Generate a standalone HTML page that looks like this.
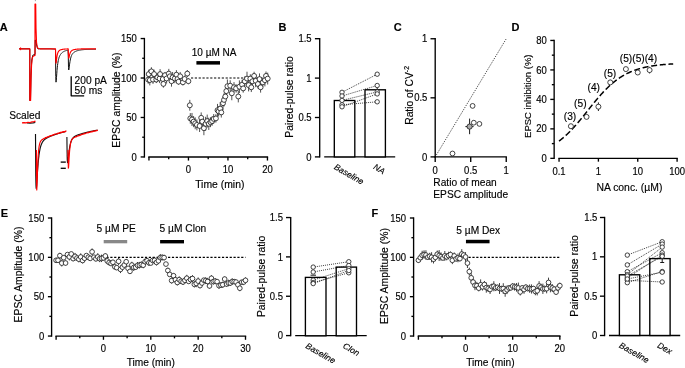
<!DOCTYPE html>
<html><head><meta charset="utf-8"><style>
html,body{margin:0;padding:0;background:#fff;overflow:hidden;}
svg{display:block;will-change:transform;font-family:"Liberation Sans", sans-serif;}
text{stroke:#000;stroke-width:0.15px;}
</style></head><body>
<svg width="685" height="368" viewBox="0 0 685 368">
<defs><filter id="bl" x="0" y="0" width="1" height="1"><feGaussianBlur stdDeviation="0.28"/></filter></defs>
<rect width="685" height="368" fill="#fff"/>
<g filter="url(#bl)">
<text x="-0.3" y="30.6" font-size="11" font-weight="bold">A</text>
<text x="278.6" y="30.8" font-size="11" font-weight="bold">B</text>
<text x="393.8" y="30.8" font-size="11" font-weight="bold">C</text>
<text x="511.6" y="30.8" font-size="11" font-weight="bold">D</text>
<text x="0.8" y="216.8" font-size="11" font-weight="bold">E</text>
<text x="371.6" y="216.8" font-size="11" font-weight="bold">F</text>
<polyline points="19,48.8 29.8,48.8 29.8,100.5 30.5,100.5 31,75 31.8,60 32.8,55.2 35,54.4 35.2,40 35.6,40 36,42 36.6,45 37.6,48.5 39,48.9 39.25,48.8 39.5,48.8 39.75,48.8 40,48.8 40.25,48.8 40.5,48.8 40.75,48.8 41,48.8 41.25,48.8 41.5,48.8 41.75,48.8 42,48.8 42.25,48.8 42.5,48.8 42.75,48.8 43,48.8 43.25,48.8 43.5,48.8 43.75,48.8 44,48.8 44.25,48.8 44.5,48.8 44.75,48.8 45,48.8 45.25,48.8 45.5,48.8 45.75,48.8 46,48.8 46.25,48.8 46.5,48.8 46.75,48.8 47,48.8 47.25,48.8 47.5,48.8 47.75,48.8 48,48.8 48.25,48.8 48.5,48.8 48.75,48.8 49,48.8 49.25,48.8 49.5,48.8 49.75,48.8 50,48.8 50.25,48.82 50.5,48.84 50.75,48.86 51,48.88 51.25,48.9 51.5,48.92 51.75,48.94 52,48.96 52.25,48.98 52.5,49 52.75,49.02 53,49.04 53.25,49.06 53.5,49.08 53.75,49.1 54,49.12 54.25,49.14 54.5,49.16 54.75,49.18 55,49.2 55.25,49.2 55.5,49.2 55.75,76.58 56,82.16 56.25,80.7 56.5,77.33 56.75,73.79 57,70.6 57.25,67.86 57.5,65.56 57.75,63.63 58,62.01 58.25,60.65 58.5,59.5 58.75,58.52 59,57.68 59.25,56.95 59.5,56.32 59.75,55.76 60,55.27 60.25,54.83 60.5,54.44 60.75,54.09 61,53.77 61.25,53.48 61.5,53.21 61.75,52.97 62,52.74 62.25,52.53 62.5,52.34 62.75,52.16 63,51.99 63.25,51.83 63.5,51.68 63.75,51.55 64,51.41 64.25,51.29 64.5,51.18 64.75,51.07 65,50.97 65.25,50.87 65.5,50.78 65.75,50.69 66,50.61 66.25,50.53 66.5,50.46 66.75,50.39 67,50.33 67.25,50.27 67.5,50.21 67.75,50.15 68,50.1 68.25,55.12 68.5,67.67 68.75,69.97 69,68.9 69.25,66.92 69.5,64.88 69.75,63.02 70,61.4 70.25,60.03 70.5,58.86 70.75,57.86 71,57.01 71.25,56.28 71.5,55.66 71.75,55.11 72,54.64 72.25,54.22 72.5,53.85 72.75,53.52 73,53.23 73.25,52.97 73.5,52.73 73.75,52.51 74,52.31 74.25,52.13 74.5,51.97 74.75,51.81 75,51.67 75.25,51.53 75.5,51.41 75.75,51.29 76,51.18 76.25,51.08 76.5,50.98 76.75,50.89 77,50.81 77.25,50.72 77.5,50.65 77.75,50.57 78,50.51 78.25,50.44 78.5,50.38 78.75,50.32 79,50.26 79.25,50.21 79.5,50.16 79.75,50.11 80,50.07 80.25,50.03 80.5,49.99 80.75,49.95 81,49.91 81.25,49.87 81.5,49.84 81.75,49.81 82,49.78 82.25,49.75 82.5,49.72 82.75,49.7 83,49.67 83.25,49.65 83.5,49.63 83.75,49.61 84,49.59 84.25,49.57 84.5,49.55 84.75,49.53 85,49.52 85.25,49.5 85.5,49.49 85.75,49.47 86,49.46 86.25,49.45 86.5,49.43 86.75,49.42 87,49.41 87.25,49.4 87.5,49.39 87.75,49.38 88,49.37 88.25,49.36 88.5,49.36 88.75,49.35 89,49.34 89.25,49.33 89.5,49.33 89.75,49.32 90,49.32 90.25,49.31 90.5,49.3 90.75,49.3 91,49.29 91.25,49.29 91.5,49.29 91.75,49.28 92,49.28 92.25,49.27 92.5,49.27 92.75,49.27 93,49.26 93.25,49.26 93.5,49.26 93.75,49.25 94,49.25 94.25,49.25 94.5,49.25 94.75,49.24 95,49.24 95.25,49.24 95.5,49.24 95.75,49.24 96,49.23" fill="none" stroke="#111" stroke-width="1" stroke-linejoin="round"/>
<polyline points="19,48.8 29.8,48.8 29.8,100.5 30.6,100.5 31,80 31.6,64 32.4,57.4 33.5,56 35,55.4 35,4 35.7,4 36,28 36.5,42 37.2,47.2 38.4,48.6 40,48.8 40.25,48.8 40.5,48.8 40.75,48.8 41,48.8 41.25,48.8 41.5,48.8 41.75,48.8 42,48.8 42.25,48.8 42.5,48.8 42.75,48.8 43,48.8 43.25,48.8 43.5,48.8 43.75,48.8 44,48.8 44.25,48.8 44.5,48.8 44.75,48.8 45,48.8 45.25,48.8 45.5,48.8 45.75,48.8 46,48.8 46.25,48.8 46.5,48.8 46.75,48.8 47,48.8 47.25,48.8 47.5,48.8 47.75,48.8 48,48.8 48.25,48.8 48.5,48.8 48.75,48.8 49,48.8 49.25,48.8 49.5,48.8 49.75,48.8 50,48.8 50.25,48.8 50.5,48.8 50.75,48.8 51,48.8 51.25,48.8 51.5,48.8 51.75,48.8 52,48.8 52.25,48.8 52.5,48.8 52.75,48.8 53,48.8 53.25,48.8 53.5,48.8 53.75,48.8 54,48.8 54.25,48.8 54.5,48.8 54.75,48.8 55,48.8 55.25,48.8 55.5,48.8 55.75,59.15 56,63.2 56.25,62.02 56.5,59.88 56.75,57.87 57,56.21 57.25,54.89 57.5,53.85 57.75,53.03 58,52.38 58.25,51.86 58.5,51.44 58.75,51.1 59,50.83 59.25,50.6 59.5,50.4 59.75,50.24 60,50.1 60.25,49.98 60.5,49.88 60.75,49.79 61,49.71 61.25,49.64 61.5,49.57 61.75,49.51 62,49.46 62.25,49.41 62.5,49.37 62.75,49.32 63,49.29 63.25,49.25 63.5,49.22 63.75,49.19 64,49.16 64.25,49.14 64.5,49.11 64.75,49.09 65,49.07 65.25,49.05 65.5,49.04 65.75,49.02 66,49 66.25,48.99 66.5,48.98 66.75,48.96 67,48.95 67.25,48.94 67.5,48.93 67.75,48.92 68,48.92 68.25,48.91 68.5,56.51 68.75,58.29 69,57.57 69.25,56.35 69.5,55.18 69.75,54.2 70,53.39 70.25,52.73 70.5,52.19 70.75,51.75 71,51.39 71.25,51.09 71.5,50.84 71.75,50.63 72,50.46 72.25,50.3 72.5,50.17 72.75,50.06 73,49.96 73.25,49.87 73.5,49.79 73.75,49.72 74,49.65 74.25,49.59 74.5,49.54 74.75,49.49 75,49.44 75.25,49.4 75.5,49.36 75.75,49.33 76,49.29 76.25,49.26 76.5,49.23 76.75,49.21 77,49.18 77.25,49.16 77.5,49.14 77.75,49.12 78,49.1 78.25,49.08 78.5,49.06 78.75,49.05 79,49.03 79.25,49.02 79.5,49 79.75,48.99 80,48.98 80.25,48.97 80.5,48.96 80.75,48.95 81,48.94 81.25,48.93 81.5,48.92 81.75,48.92 82,48.91 82.25,48.9 82.5,48.9 82.75,48.89 83,48.88 83.25,48.88 83.5,48.87 83.75,48.87 84,48.87 84.25,48.86 84.5,48.86 84.75,48.85 85,48.85 85.25,48.85 85.5,48.85 85.75,48.84 86,48.84 86.25,48.84 86.5,48.84 86.75,48.83 87,48.83 87.25,48.83 87.5,48.83 87.75,48.83 88,48.82 88.25,48.82 88.5,48.82 88.75,48.82 89,48.82 89.25,48.82 89.5,48.82 89.75,48.82 90,48.81 90.25,48.81 90.5,48.81 90.75,48.81 91,48.81 91.25,48.81 91.5,48.81 91.75,48.81 92,48.81 92.25,48.81 92.5,48.81 92.75,48.81 93,48.81 93.25,48.81 93.5,48.81 93.75,48.81 94,48.81 94.25,48.81 94.5,48.8 94.75,48.8 95,48.8 95.25,48.8 95.5,48.8 95.75,48.8 96,48.8" fill="none" stroke="#f00" stroke-width="1.15" stroke-linejoin="round"/>
<line x1="20.6" y1="47.4" x2="20.6" y2="50.2" stroke="#f00" stroke-width="1"/>
<line x1="35.4" y1="0" x2="35.4" y2="1.2" stroke="#999" stroke-width="0.9"/>
<polyline points="71.2,76.8 71.2,95.8 83.5,95.8" fill="none" stroke="#000" stroke-width="1.3" stroke-linejoin="round" stroke-linecap="square"/>
<text x="74.6" y="84.2" font-size="10.2">200 pA</text>
<text x="74.6" y="94.2" font-size="10.2">50 ms</text>
<text x="9.2" y="118.8" font-size="10.2">Scaled</text>
<polyline points="27,123 30,123.1 33,122.8 35.3,122.5" fill="none" stroke="#111" stroke-width="1.2" stroke-linejoin="round"/>
<polyline points="22,122.9 24,122.6 26,122.9 28,122.4 30,122.5 32,121.9 34,121.7 35.5,121.2" fill="none" stroke="#f00" stroke-width="1.25" stroke-linejoin="round"/>
<polyline points="35.5,134 35.75,174.76 35.95,184.69 36.15,188.2 36.35,188.17 36.55,186.26 36.75,183.44 36.95,180.24 37.15,176.96 37.35,173.78 37.55,170.77 37.75,167.97 37.95,165.39 38.15,163.03 38.35,160.87 38.55,158.91 38.75,157.13 38.95,155.51 39.15,154.04 39.35,152.71 39.55,151.49 39.75,150.39 39.95,149.38 40.15,148.47 40.35,147.63 40.55,146.87 40.75,146.17 40.95,145.53 41.15,144.95 41.35,144.41 41.55,143.92 41.75,143.46 41.95,143.04 42.15,142.66 42.35,142.3 42.55,141.96 42.75,141.65 42.95,141.37 43.15,141.1 43.35,140.84 43.55,140.61 43.75,140.38 43.95,140.17 44.15,139.98 44.35,139.79 44.55,139.61 44.75,139.44 44.95,139.28 45.15,139.12 45.35,138.97 45.55,138.83 45.75,138.69 45.95,138.56 46.15,138.43 46.35,138.31 46.55,138.19 46.75,138.07 46.95,137.96 47.15,137.85 47.35,137.74 47.55,137.63 47.75,137.53 47.95,137.43 48.15,137.33 48.35,137.23 48.55,137.13 48.75,137.04 48.95,136.95 49.15,136.86 49.35,136.77 49.55,136.68 49.75,136.59 49.95,136.5 50.15,136.42 50.35,136.33 50.55,136.25 50.75,136.16 50.95,136.08 51.15,136 51.35,135.92 51.55,135.84 51.75,135.76 51.95,135.68 52.15,135.61 52.35,135.53 52.55,135.45 52.75,135.38 52.95,135.3 53.15,135.23 53.35,135.16 53.55,135.08 53.75,135.01 53.95,134.94 54.15,134.87 54.35,134.8 54.55,134.73 54.75,134.66 54.95,134.59 55.15,134.52 55.35,134.45 55.55,134.38 55.75,134.32 55.95,134.25 56.15,134.19 56.35,134.12 56.55,134.05 56.75,133.99 56.95,133.93 57.15,133.86 57.35,133.8 57.55,133.74 57.75,133.67 57.95,133.61 58.15,133.55 58.35,133.49 58.55,133.43 58.75,133.37 58.95,133.31 59.15,133.25 59.35,133.19 59.55,133.13 59.75,133.08 59.95,133.02 60.15,132.96 60.35,132.9 60.55,132.85 60.75,132.79 60.95,132.74 61.15,132.68 61.35,132.63 61.55,132.57 61.75,132.52 61.95,132.47 62.15,132.41 62.35,132.36 62.55,132.31 62.75,132.26 62.95,132.2 63.15,132.15 63.35,132.1 63.55,132.05 63.75,132 63.95,131.95 64.15,131.9 64.35,131.85 64.55,131.8 64.75,131.76 64.95,131.71 65.15,131.66 65.35,131.61 65.55,131.56 65.75,131.52 65.95,131.47" fill="none" stroke="#111" stroke-width="1.15" stroke-linejoin="round"/>
<polyline points="66.9,137 67.1,152.49 67.3,159.68 67.5,162.42 67.7,162.71 67.9,161.73 68.1,160.12 68.3,158.26 68.5,156.34 68.7,154.48 68.9,152.73 69.1,151.12 69.3,149.64 69.5,148.3 69.7,147.09 69.9,146 70.1,145.02 70.3,144.13 70.5,143.34 70.7,142.62 70.9,141.97 71.1,141.39 71.3,140.86 71.5,140.38 71.7,139.94 71.9,139.55 72.1,139.19 72.3,138.86 72.5,138.56 72.7,138.29 72.9,138.03 73.1,137.8 73.3,137.59 73.5,137.39 73.7,137.2 73.9,137.03 74.1,136.87 74.3,136.72 74.5,136.58 74.7,136.44 74.9,136.32 75.1,136.2 75.3,136.08 75.5,135.97 75.7,135.87 75.9,135.77 76.1,135.67 76.3,135.58 76.5,135.49 76.7,135.4 76.9,135.32 77.1,135.23 77.3,135.15 77.5,135.08 77.7,135 77.9,134.92 78.1,134.85 78.3,134.78 78.5,134.71 78.7,134.64 78.9,134.57 79.1,134.5 79.3,134.43 79.5,134.37 79.7,134.3 79.9,134.24 80.1,134.17 80.3,134.11 80.5,134.05 80.7,133.99 80.9,133.93 81.1,133.87 81.3,133.8 81.5,133.75 81.7,133.69 81.9,133.63 82.1,133.57 82.3,133.51 82.5,133.46 82.7,133.4 82.9,133.34 83.1,133.29 83.3,133.23 83.5,133.18 83.7,133.12 83.9,133.07 84.1,133.01 84.3,132.96 84.5,132.91 84.7,132.85 84.9,132.8 85.1,132.75 85.3,132.7 85.5,132.65 85.7,132.6 85.9,132.55 86.1,132.5 86.3,132.45 86.5,132.4 86.7,132.35 86.9,132.3 87.1,132.25 87.3,132.2 87.5,132.15 87.7,132.11 87.9,132.06 88.1,132.01 88.3,131.96 88.5,131.92 88.7,131.87 88.9,131.83 89.1,131.78 89.3,131.74 89.5,131.69 89.7,131.65 89.9,131.6 90.1,131.56 90.3,131.52 90.5,131.47 90.7,131.43 90.9,131.39 91.1,131.34 91.3,131.3 91.5,131.26 91.7,131.22 91.9,131.18 92.1,131.14 92.3,131.1 92.5,131.05 92.7,131.01 92.9,130.97 93.1,130.93 93.3,130.9 93.5,130.86 93.7,130.82 93.9,130.78 94.1,130.74 94.3,130.7 94.5,130.66 94.7,130.63 94.9,130.59 95.1,130.55 95.3,130.52 95.5,130.48 95.7,130.44 95.9,130.41 96.1,130.37 96.3,130.33 96.5,130.3 96.7,130.26 96.9,130.23 97.1,130.19 97.3,130.16 97.5,130.13" fill="none" stroke="#111" stroke-width="1.15" stroke-linejoin="round"/>
<polyline points="36.4,150 36.5,176.21 36.75,189.97 37,185.93 37.25,178.03 37.5,170.36 37.75,163.9 38,158.73 38.25,154.67 38.5,151.49 38.75,149.01 39,147.07 39.25,145.55 39.5,144.35 39.75,143.39 40,142.63 40.25,142.01 40.5,141.51 40.75,141.09 41,140.74 41.25,140.44 41.5,140.19 41.75,139.96 42,139.76 42.25,139.57 42.5,139.4 42.75,139.25 43,139.1 43.25,138.96 43.5,138.82 43.75,138.69 44,138.41 44.25,138.47 44.5,138.24 44.75,138.26 45,138.16 45.25,137.71 45.5,137.56 45.75,137.95 46,137.49 46.25,137.36 46.5,137.71 46.75,137.29 47,137.4 47.25,137.08 47.5,137.07 47.75,136.68 48,136.86 48.25,136.9 48.5,136.59 48.75,136.62 49,136.48 49.25,136.02 49.5,136.34 49.75,136.14 50,135.87 50.25,135.61 50.5,136.02 50.75,135.69 51,135.74 51.25,135.75 51.5,135.56 51.75,135.59 52,135.19 52.25,135.34 52.5,135.04 52.75,135.25 53,135.12 53.25,134.57 53.5,134.51 53.75,134.47 54,134.84 54.25,134.43 54.5,134.47 54.75,134.19 55,134.23 55.25,134.08 55.5,133.98 55.75,134.04 56,133.96 56.25,134.07 56.5,133.86 56.75,133.93 57,133.81 57.25,133.82 57.5,133.55 57.75,133.17 58,133.52 58.25,133.51 58.5,133.4 58.75,133.12 59,133.14 59.25,132.77 59.5,133.07 59.75,132.85 60,132.6 60.25,132.4 60.5,132.81 60.75,132.82 61,132.22 61.25,132.58 61.5,132.28 61.75,132.06 62,132.08 62.25,132.3 62.5,132.3 62.75,131.74 63,132.02 63.25,131.61 63.5,131.96 63.75,131.66 64,131.93 64.25,131.93 64.5,131.59 64.75,131.83 65,131.36 65.25,131.16 65.5,131.41 65.75,131.02 66,131.06 66.25,131.13 66.5,131.2" fill="none" stroke="#f00" stroke-width="1.15" stroke-linejoin="round"/>
<polyline points="68,150 68.1,157.53 68.35,168.18 68.6,167.05 68.85,162.82 69.1,158.3 69.35,154.33 69.6,151.05 69.85,148.41 70.1,146.31 70.35,144.64 70.6,143.31 70.85,142.24 71.1,141.38 71.35,140.69 71.6,140.13 71.85,139.66 72.1,139.28 72.35,138.95 72.6,138.67 72.85,138.43 73.1,138.22 73.35,138.03 73.6,137.86 73.85,137.71 74.1,137.56 74.35,137.43 74.6,137.3 74.85,137.17 75.1,137.06 75.35,136.94 75.6,136.62 75.85,136.45 76.1,136.84 76.35,136.4 76.6,136.68 76.85,136.55 77.1,136.13 77.35,136.09 77.6,136.02 77.85,136 78.1,135.88 78.35,135.76 78.6,135.7 78.85,135.8 79.1,135.45 79.35,135.32 79.6,135.4 79.85,135.02 80.1,134.97 80.35,135.29 80.6,134.93 80.85,134.86 81.1,134.45 81.35,134.61 81.6,134.62 81.85,134.2 82.1,134.47 82.35,134.4 82.6,133.98 82.85,134.24 83.1,134.06 83.35,134.11 83.6,133.83 83.85,133.97 84.1,133.91 84.35,133.4 84.6,133.35 84.85,133.64 85.1,133.74 85.35,133.24 85.6,133.29 85.85,133.3 86.1,133.06 86.35,133.02 86.6,132.91 86.85,132.88 87.1,132.94 87.35,132.7 87.6,132.67 87.85,132.84 88.1,132.33 88.35,132.58 88.6,132.62 88.85,132.3 89.1,132.18 89.35,132.46 89.6,132.06 89.85,131.96 90.1,132.05 90.35,132.14 90.6,131.72 90.85,131.79 91.1,131.74 91.35,131.98 91.6,131.68 91.85,131.87 92.1,131.4 92.35,131.44 92.6,131.57 92.85,131.65 93.1,131.34 93.35,131.14 93.6,131.02 93.85,131.21 94.1,130.95 94.35,131.27 94.6,131.23 94.85,130.79 95.1,130.79 95.35,131.05 95.6,130.9 95.85,130.95 96.1,130.62 96.35,130.44 96.6,130.48 96.85,130.73 97.1,130.37 97.35,130.37 97.6,130.36 97.85,130.31" fill="none" stroke="#f00" stroke-width="1.15" stroke-linejoin="round"/>
<line x1="60.7" y1="162.1" x2="65.8" y2="162.1" stroke="#000" stroke-width="1.3"/>
<line x1="60.7" y1="168.3" x2="65.8" y2="168.3" stroke="#000" stroke-width="1.3"/>
<line x1="144.4" y1="37.88" x2="144.4" y2="157.62" stroke="#000" stroke-width="1.35"/>
<line x1="140.65" y1="156.95" x2="144.4" y2="156.95" stroke="#000" stroke-width="1.35"/>
<line x1="140.65" y1="117.48" x2="144.4" y2="117.48" stroke="#000" stroke-width="1.35"/>
<line x1="140.65" y1="78.02" x2="144.4" y2="78.02" stroke="#000" stroke-width="1.35"/>
<line x1="140.65" y1="38.55" x2="144.4" y2="38.55" stroke="#000" stroke-width="1.35"/>
<line x1="142.2" y1="137.22" x2="144.4" y2="137.22" stroke="#000" stroke-width="1.35"/>
<line x1="142.2" y1="97.75" x2="144.4" y2="97.75" stroke="#000" stroke-width="1.35"/>
<line x1="142.2" y1="58.29" x2="144.4" y2="58.29" stroke="#000" stroke-width="1.35"/>
<text x="0" y="0" font-size="9.5" text-anchor="end" transform="translate(136.8,160.55) scale(1,1.15)">0</text>
<text x="0" y="0" font-size="9.5" text-anchor="end" transform="translate(136.8,121.08) scale(1,1.15)">50</text>
<text x="0" y="0" font-size="9.5" text-anchor="end" transform="translate(136.8,81.62) scale(1,1.15)">100</text>
<text x="0" y="0" font-size="9.5" text-anchor="end" transform="translate(136.8,42.15) scale(1,1.15)">150</text>
<line x1="148.27" y1="156.95" x2="268.12" y2="156.95" stroke="#000" stroke-width="1.35"/>
<line x1="148.95" y1="156.95" x2="148.95" y2="160.55" stroke="#000" stroke-width="1.35"/>
<line x1="188.45" y1="156.95" x2="188.45" y2="160.55" stroke="#000" stroke-width="1.35"/>
<line x1="227.95" y1="156.95" x2="227.95" y2="160.55" stroke="#000" stroke-width="1.35"/>
<line x1="267.45" y1="156.95" x2="267.45" y2="160.55" stroke="#000" stroke-width="1.35"/>
<line x1="168.7" y1="156.95" x2="168.7" y2="159.15" stroke="#000" stroke-width="1.35"/>
<line x1="208.2" y1="156.95" x2="208.2" y2="159.15" stroke="#000" stroke-width="1.35"/>
<line x1="247.7" y1="156.95" x2="247.7" y2="159.15" stroke="#000" stroke-width="1.35"/>
<text x="0" y="0" font-size="9.5" text-anchor="middle" transform="translate(188.45,172.9) scale(1,1.15)">0</text>
<text x="0" y="0" font-size="9.5" text-anchor="middle" transform="translate(227.95,172.9) scale(1,1.15)">10</text>
<text x="0" y="0" font-size="9.5" text-anchor="middle" transform="translate(267.45,172.9) scale(1,1.15)">20</text>
<text x="219.8" y="187.7" font-size="10.4" text-anchor="middle">Time (min)</text>
<text x="0" y="0" font-size="10.4" text-anchor="middle" transform="translate(119.74,100.1) rotate(-90)">EPSC amplitude (%)</text>
<text x="191.8" y="56.3" font-size="10">10 &#181;M NA</text>
<rect x="196.4" y="61.1" width="23.6" height="3.5" fill="#000" stroke="none" stroke-width="0"/>
<line x1="190.95" y1="78.02" x2="267.45" y2="78.02" stroke="#000" stroke-width="1.1" stroke-dasharray="2.2 1.65"/>
<line x1="148.2" y1="75.47" x2="148.2" y2="83.73" stroke="#333" stroke-width="0.85"/>
<line x1="148.7" y1="69.7" x2="148.7" y2="78.5" stroke="#333" stroke-width="0.85"/>
<line x1="149.8" y1="74.79" x2="149.8" y2="85.41" stroke="#333" stroke-width="0.85"/>
<line x1="151.4" y1="67.24" x2="151.4" y2="75.56" stroke="#333" stroke-width="0.85"/>
<line x1="153" y1="75.33" x2="153" y2="83.87" stroke="#333" stroke-width="0.85"/>
<line x1="154.1" y1="69.63" x2="154.1" y2="78.57" stroke="#333" stroke-width="0.85"/>
<line x1="156.3" y1="76.14" x2="156.3" y2="83.06" stroke="#333" stroke-width="0.85"/>
<line x1="157.4" y1="73.12" x2="157.4" y2="81.68" stroke="#333" stroke-width="0.85"/>
<line x1="159.6" y1="73.93" x2="159.6" y2="83.07" stroke="#333" stroke-width="0.85"/>
<line x1="160.1" y1="69.12" x2="160.1" y2="79.08" stroke="#333" stroke-width="0.85"/>
<line x1="162.8" y1="75.76" x2="162.8" y2="82.24" stroke="#333" stroke-width="0.85"/>
<line x1="163.4" y1="80.14" x2="163.4" y2="87.66" stroke="#333" stroke-width="0.85"/>
<line x1="165" y1="71.97" x2="165" y2="78.43" stroke="#333" stroke-width="0.85"/>
<line x1="166.6" y1="73.48" x2="166.6" y2="83.52" stroke="#333" stroke-width="0.85"/>
<line x1="168.8" y1="68.87" x2="168.8" y2="78.33" stroke="#333" stroke-width="0.85"/>
<line x1="169.9" y1="73.2" x2="169.9" y2="79.4" stroke="#333" stroke-width="0.85"/>
<line x1="171.5" y1="75.74" x2="171.5" y2="86.66" stroke="#333" stroke-width="0.85"/>
<line x1="172.6" y1="71.99" x2="172.6" y2="82.81" stroke="#333" stroke-width="0.85"/>
<line x1="174.8" y1="73.87" x2="174.8" y2="83.13" stroke="#333" stroke-width="0.85"/>
<line x1="176.4" y1="70.16" x2="176.4" y2="79.24" stroke="#333" stroke-width="0.85"/>
<line x1="177.5" y1="75.61" x2="177.5" y2="82.39" stroke="#333" stroke-width="0.85"/>
<line x1="178.6" y1="78.66" x2="178.6" y2="84.74" stroke="#333" stroke-width="0.85"/>
<line x1="180.2" y1="71.98" x2="180.2" y2="80.62" stroke="#333" stroke-width="0.85"/>
<line x1="182.9" y1="79.15" x2="182.9" y2="85.45" stroke="#333" stroke-width="0.85"/>
<line x1="184.6" y1="75.52" x2="184.6" y2="82.48" stroke="#333" stroke-width="0.85"/>
<line x1="187.3" y1="70" x2="187.3" y2="77.2" stroke="#333" stroke-width="0.85"/>
<line x1="188.4" y1="78.12" x2="188.4" y2="84.28" stroke="#333" stroke-width="0.85"/>
<line x1="189.8" y1="99.91" x2="189.8" y2="110.69" stroke="#333" stroke-width="0.85"/>
<line x1="190.3" y1="113.08" x2="190.3" y2="123.72" stroke="#333" stroke-width="0.85"/>
<line x1="192" y1="112.97" x2="192" y2="126.03" stroke="#333" stroke-width="0.85"/>
<line x1="193.6" y1="116.04" x2="193.6" y2="127.16" stroke="#333" stroke-width="0.85"/>
<line x1="195.2" y1="117.38" x2="195.2" y2="129.22" stroke="#333" stroke-width="0.85"/>
<line x1="196.9" y1="119.4" x2="196.9" y2="130.4" stroke="#333" stroke-width="0.85"/>
<line x1="199.6" y1="120.01" x2="199.6" y2="131.99" stroke="#333" stroke-width="0.85"/>
<line x1="201.2" y1="112.43" x2="201.2" y2="123.17" stroke="#333" stroke-width="0.85"/>
<line x1="202.3" y1="116.77" x2="202.3" y2="126.43" stroke="#333" stroke-width="0.85"/>
<line x1="203.9" y1="121.21" x2="203.9" y2="135.19" stroke="#333" stroke-width="0.85"/>
<line x1="205.6" y1="116.81" x2="205.6" y2="130.79" stroke="#333" stroke-width="0.85"/>
<line x1="207.2" y1="114.58" x2="207.2" y2="127.62" stroke="#333" stroke-width="0.85"/>
<line x1="208.8" y1="117.68" x2="208.8" y2="129.92" stroke="#333" stroke-width="0.85"/>
<line x1="210.5" y1="117.25" x2="210.5" y2="127.15" stroke="#333" stroke-width="0.85"/>
<line x1="212.1" y1="116.41" x2="212.1" y2="125.79" stroke="#333" stroke-width="0.85"/>
<line x1="213.7" y1="114.03" x2="213.7" y2="123.77" stroke="#333" stroke-width="0.85"/>
<line x1="215.9" y1="114.19" x2="215.9" y2="122.61" stroke="#333" stroke-width="0.85"/>
<line x1="217.5" y1="103.9" x2="217.5" y2="116.5" stroke="#333" stroke-width="0.85"/>
<line x1="218.6" y1="106.1" x2="218.6" y2="116.5" stroke="#333" stroke-width="0.85"/>
<line x1="220.2" y1="102.06" x2="220.2" y2="115.14" stroke="#333" stroke-width="0.85"/>
<line x1="221.3" y1="107.24" x2="221.3" y2="117.56" stroke="#333" stroke-width="0.85"/>
<line x1="223" y1="96.33" x2="223" y2="110.07" stroke="#333" stroke-width="0.85"/>
<line x1="224" y1="93.36" x2="224" y2="106.44" stroke="#333" stroke-width="0.85"/>
<line x1="225.3" y1="92.5" x2="225.3" y2="100.5" stroke="#333" stroke-width="0.85"/>
<line x1="226.3" y1="86.47" x2="226.3" y2="95.73" stroke="#333" stroke-width="0.85"/>
<line x1="227.4" y1="79.47" x2="227.4" y2="92.93" stroke="#333" stroke-width="0.85"/>
<line x1="230.2" y1="80.29" x2="230.2" y2="91.11" stroke="#333" stroke-width="0.85"/>
<line x1="231.8" y1="86.36" x2="231.8" y2="100.24" stroke="#333" stroke-width="0.85"/>
<line x1="234" y1="82.11" x2="234" y2="92.49" stroke="#333" stroke-width="0.85"/>
<line x1="236.1" y1="84.18" x2="236.1" y2="92.62" stroke="#333" stroke-width="0.85"/>
<line x1="238.3" y1="90.61" x2="238.3" y2="102.39" stroke="#333" stroke-width="0.85"/>
<line x1="239.4" y1="80.36" x2="239.4" y2="93.04" stroke="#333" stroke-width="0.85"/>
<line x1="242.1" y1="79.79" x2="242.1" y2="89.41" stroke="#333" stroke-width="0.85"/>
<line x1="243.2" y1="84.14" x2="243.2" y2="92.66" stroke="#333" stroke-width="0.85"/>
<line x1="244.8" y1="76.3" x2="244.8" y2="86.3" stroke="#333" stroke-width="0.85"/>
<line x1="247" y1="71.71" x2="247" y2="85.49" stroke="#333" stroke-width="0.85"/>
<line x1="248.6" y1="78.83" x2="248.6" y2="91.37" stroke="#333" stroke-width="0.85"/>
<line x1="250.3" y1="74.25" x2="250.3" y2="82.95" stroke="#333" stroke-width="0.85"/>
<line x1="251.3" y1="82.56" x2="251.3" y2="92.04" stroke="#333" stroke-width="0.85"/>
<line x1="252.4" y1="77" x2="252.4" y2="85.6" stroke="#333" stroke-width="0.85"/>
<line x1="254.1" y1="71.72" x2="254.1" y2="80.08" stroke="#333" stroke-width="0.85"/>
<line x1="255.7" y1="74.41" x2="255.7" y2="87.19" stroke="#333" stroke-width="0.85"/>
<line x1="257.9" y1="79.47" x2="257.9" y2="88.53" stroke="#333" stroke-width="0.85"/>
<line x1="259.5" y1="73.42" x2="259.5" y2="84.78" stroke="#333" stroke-width="0.85"/>
<line x1="260.6" y1="81.96" x2="260.6" y2="92.64" stroke="#333" stroke-width="0.85"/>
<line x1="262.8" y1="77.83" x2="262.8" y2="86.97" stroke="#333" stroke-width="0.85"/>
<line x1="264.9" y1="74" x2="264.9" y2="86.4" stroke="#333" stroke-width="0.85"/>
<line x1="266" y1="71.51" x2="266" y2="80.29" stroke="#333" stroke-width="0.85"/>
<line x1="267.7" y1="72.67" x2="267.7" y2="84.53" stroke="#333" stroke-width="0.85"/>
<circle cx="148.2" cy="79.6" r="2.45" fill="#fff" stroke="#222" stroke-width="0.85"/>
<circle cx="148.7" cy="74.1" r="2.45" fill="#fff" stroke="#222" stroke-width="0.85"/>
<circle cx="149.8" cy="80.1" r="2.45" fill="#fff" stroke="#222" stroke-width="0.85"/>
<circle cx="151.4" cy="71.4" r="2.45" fill="#fff" stroke="#222" stroke-width="0.85"/>
<circle cx="153" cy="79.6" r="2.45" fill="#fff" stroke="#222" stroke-width="0.85"/>
<circle cx="154.1" cy="74.1" r="2.45" fill="#fff" stroke="#222" stroke-width="0.85"/>
<circle cx="156.3" cy="79.6" r="2.45" fill="#fff" stroke="#222" stroke-width="0.85"/>
<circle cx="157.4" cy="77.4" r="2.45" fill="#fff" stroke="#222" stroke-width="0.85"/>
<circle cx="159.6" cy="78.5" r="2.45" fill="#fff" stroke="#222" stroke-width="0.85"/>
<circle cx="160.1" cy="74.1" r="2.45" fill="#fff" stroke="#222" stroke-width="0.85"/>
<circle cx="162.8" cy="79" r="2.45" fill="#fff" stroke="#222" stroke-width="0.85"/>
<circle cx="163.4" cy="83.9" r="2.45" fill="#fff" stroke="#222" stroke-width="0.85"/>
<circle cx="165" cy="75.2" r="2.45" fill="#fff" stroke="#222" stroke-width="0.85"/>
<circle cx="166.6" cy="78.5" r="2.45" fill="#fff" stroke="#222" stroke-width="0.85"/>
<circle cx="168.8" cy="73.6" r="2.45" fill="#fff" stroke="#222" stroke-width="0.85"/>
<circle cx="169.9" cy="76.3" r="2.45" fill="#fff" stroke="#222" stroke-width="0.85"/>
<circle cx="171.5" cy="81.2" r="2.45" fill="#fff" stroke="#222" stroke-width="0.85"/>
<circle cx="172.6" cy="77.4" r="2.45" fill="#fff" stroke="#222" stroke-width="0.85"/>
<circle cx="174.8" cy="78.5" r="2.45" fill="#fff" stroke="#222" stroke-width="0.85"/>
<circle cx="176.4" cy="74.7" r="2.45" fill="#fff" stroke="#222" stroke-width="0.85"/>
<circle cx="177.5" cy="79" r="2.45" fill="#fff" stroke="#222" stroke-width="0.85"/>
<circle cx="178.6" cy="81.7" r="2.45" fill="#fff" stroke="#222" stroke-width="0.85"/>
<circle cx="180.2" cy="76.3" r="2.45" fill="#fff" stroke="#222" stroke-width="0.85"/>
<circle cx="182.9" cy="82.3" r="2.45" fill="#fff" stroke="#222" stroke-width="0.85"/>
<circle cx="184.6" cy="79" r="2.45" fill="#fff" stroke="#222" stroke-width="0.85"/>
<circle cx="187.3" cy="73.6" r="2.45" fill="#fff" stroke="#222" stroke-width="0.85"/>
<circle cx="188.4" cy="81.2" r="2.45" fill="#fff" stroke="#222" stroke-width="0.85"/>
<circle cx="189.8" cy="105.3" r="2.45" fill="#fff" stroke="#222" stroke-width="0.85"/>
<circle cx="190.3" cy="118.4" r="2.45" fill="#fff" stroke="#222" stroke-width="0.85"/>
<circle cx="192" cy="119.5" r="2.45" fill="#fff" stroke="#222" stroke-width="0.85"/>
<circle cx="193.6" cy="121.6" r="2.45" fill="#fff" stroke="#222" stroke-width="0.85"/>
<circle cx="195.2" cy="123.3" r="2.45" fill="#fff" stroke="#222" stroke-width="0.85"/>
<circle cx="196.9" cy="124.9" r="2.45" fill="#fff" stroke="#222" stroke-width="0.85"/>
<circle cx="199.6" cy="126" r="2.45" fill="#fff" stroke="#222" stroke-width="0.85"/>
<circle cx="201.2" cy="117.8" r="2.45" fill="#fff" stroke="#222" stroke-width="0.85"/>
<circle cx="202.3" cy="121.6" r="2.45" fill="#fff" stroke="#222" stroke-width="0.85"/>
<circle cx="203.9" cy="128.2" r="2.45" fill="#fff" stroke="#222" stroke-width="0.85"/>
<circle cx="205.6" cy="123.8" r="2.45" fill="#fff" stroke="#222" stroke-width="0.85"/>
<circle cx="207.2" cy="121.1" r="2.45" fill="#fff" stroke="#222" stroke-width="0.85"/>
<circle cx="208.8" cy="123.8" r="2.45" fill="#fff" stroke="#222" stroke-width="0.85"/>
<circle cx="210.5" cy="122.2" r="2.45" fill="#fff" stroke="#222" stroke-width="0.85"/>
<circle cx="212.1" cy="121.1" r="2.45" fill="#fff" stroke="#222" stroke-width="0.85"/>
<circle cx="213.7" cy="118.9" r="2.45" fill="#fff" stroke="#222" stroke-width="0.85"/>
<circle cx="215.9" cy="118.4" r="2.45" fill="#fff" stroke="#222" stroke-width="0.85"/>
<circle cx="217.5" cy="110.2" r="2.45" fill="#fff" stroke="#222" stroke-width="0.85"/>
<circle cx="218.6" cy="111.3" r="2.45" fill="#fff" stroke="#222" stroke-width="0.85"/>
<circle cx="220.2" cy="108.6" r="2.45" fill="#fff" stroke="#222" stroke-width="0.85"/>
<circle cx="221.3" cy="112.4" r="2.45" fill="#fff" stroke="#222" stroke-width="0.85"/>
<circle cx="223" cy="103.2" r="2.45" fill="#fff" stroke="#222" stroke-width="0.85"/>
<circle cx="224" cy="99.9" r="2.45" fill="#fff" stroke="#222" stroke-width="0.85"/>
<circle cx="225.3" cy="96.5" r="2.45" fill="#fff" stroke="#222" stroke-width="0.85"/>
<circle cx="226.3" cy="91.1" r="2.45" fill="#fff" stroke="#222" stroke-width="0.85"/>
<circle cx="227.4" cy="86.2" r="2.45" fill="#fff" stroke="#222" stroke-width="0.85"/>
<circle cx="230.2" cy="85.7" r="2.45" fill="#fff" stroke="#222" stroke-width="0.85"/>
<circle cx="231.8" cy="93.3" r="2.45" fill="#fff" stroke="#222" stroke-width="0.85"/>
<circle cx="234" cy="87.3" r="2.45" fill="#fff" stroke="#222" stroke-width="0.85"/>
<circle cx="236.1" cy="88.4" r="2.45" fill="#fff" stroke="#222" stroke-width="0.85"/>
<circle cx="238.3" cy="96.5" r="2.45" fill="#fff" stroke="#222" stroke-width="0.85"/>
<circle cx="239.4" cy="86.7" r="2.45" fill="#fff" stroke="#222" stroke-width="0.85"/>
<circle cx="242.1" cy="84.6" r="2.45" fill="#fff" stroke="#222" stroke-width="0.85"/>
<circle cx="243.2" cy="88.4" r="2.45" fill="#fff" stroke="#222" stroke-width="0.85"/>
<circle cx="244.8" cy="81.3" r="2.45" fill="#fff" stroke="#222" stroke-width="0.85"/>
<circle cx="247" cy="78.6" r="2.45" fill="#fff" stroke="#222" stroke-width="0.85"/>
<circle cx="248.6" cy="85.1" r="2.45" fill="#fff" stroke="#222" stroke-width="0.85"/>
<circle cx="250.3" cy="78.6" r="2.45" fill="#fff" stroke="#222" stroke-width="0.85"/>
<circle cx="251.3" cy="87.3" r="2.45" fill="#fff" stroke="#222" stroke-width="0.85"/>
<circle cx="252.4" cy="81.3" r="2.45" fill="#fff" stroke="#222" stroke-width="0.85"/>
<circle cx="254.1" cy="75.9" r="2.45" fill="#fff" stroke="#222" stroke-width="0.85"/>
<circle cx="255.7" cy="80.8" r="2.45" fill="#fff" stroke="#222" stroke-width="0.85"/>
<circle cx="257.9" cy="84" r="2.45" fill="#fff" stroke="#222" stroke-width="0.85"/>
<circle cx="259.5" cy="79.1" r="2.45" fill="#fff" stroke="#222" stroke-width="0.85"/>
<circle cx="260.6" cy="87.3" r="2.45" fill="#fff" stroke="#222" stroke-width="0.85"/>
<circle cx="262.8" cy="82.4" r="2.45" fill="#fff" stroke="#222" stroke-width="0.85"/>
<circle cx="264.9" cy="80.2" r="2.45" fill="#fff" stroke="#222" stroke-width="0.85"/>
<circle cx="266" cy="75.9" r="2.45" fill="#fff" stroke="#222" stroke-width="0.85"/>
<circle cx="267.7" cy="78.6" r="2.45" fill="#fff" stroke="#222" stroke-width="0.85"/>
<line x1="319.7" y1="38.03" x2="319.7" y2="157.58" stroke="#000" stroke-width="1.35"/>
<line x1="314.9" y1="156.9" x2="319.7" y2="156.9" stroke="#000" stroke-width="1.35"/>
<line x1="314.9" y1="117.5" x2="319.7" y2="117.5" stroke="#000" stroke-width="1.35"/>
<line x1="314.9" y1="78.1" x2="319.7" y2="78.1" stroke="#000" stroke-width="1.35"/>
<line x1="314.9" y1="38.7" x2="319.7" y2="38.7" stroke="#000" stroke-width="1.35"/>
<text x="0" y="0" font-size="9.5" text-anchor="end" transform="translate(311.6,160.5) scale(1,1.15)">0</text>
<text x="0" y="0" font-size="9.5" text-anchor="end" transform="translate(311.6,121.1) scale(1,1.15)">0.5</text>
<text x="0" y="0" font-size="9.5" text-anchor="end" transform="translate(311.6,81.7) scale(1,1.15)">1</text>
<text x="0" y="0" font-size="9.5" text-anchor="end" transform="translate(311.6,42.3) scale(1,1.15)">1.5</text>
<line x1="324.2" y1="156.9" x2="395.2" y2="156.9" stroke="#000" stroke-width="1.35"/>
<text x="0" y="0" font-size="10.4" text-anchor="middle" transform="translate(293.44,97) rotate(-90)">Paired-pulse ratio</text>
<rect x="334.3" y="100.5" width="20.5" height="56.4" fill="#fff" stroke="#000" stroke-width="1.35"/>
<rect x="365" y="89.8" width="20.4" height="67.1" fill="#fff" stroke="#000" stroke-width="1.35"/>
<line x1="377.2" y1="85.2" x2="377.2" y2="89.3" stroke="#000" stroke-width="0.9"/>
<line x1="375.5" y1="85.2" x2="379" y2="85.2" stroke="#000" stroke-width="0.9"/>
<line x1="342" y1="92.3" x2="377.2" y2="74.2" stroke="#000" stroke-width="0.75" stroke-dasharray="1 1"/>
<line x1="342" y1="96" x2="377.2" y2="85.5" stroke="#000" stroke-width="0.75" stroke-dasharray="1 1"/>
<line x1="342" y1="100.4" x2="377.2" y2="91.9" stroke="#000" stroke-width="0.75" stroke-dasharray="1 1"/>
<line x1="342" y1="104.8" x2="377.2" y2="101.8" stroke="#000" stroke-width="0.75" stroke-dasharray="1 1"/>
<line x1="342" y1="106.8" x2="377.2" y2="93.9" stroke="#000" stroke-width="0.75" stroke-dasharray="1 1"/>
<circle cx="342" cy="92.3" r="2.2" fill="#fff" stroke="#222" stroke-width="0.85"/>
<circle cx="342" cy="96" r="2.2" fill="#fff" stroke="#222" stroke-width="0.85"/>
<circle cx="342" cy="100.4" r="2.2" fill="#fff" stroke="#222" stroke-width="0.85"/>
<circle cx="342" cy="104.8" r="2.2" fill="#fff" stroke="#222" stroke-width="0.85"/>
<circle cx="342" cy="106.8" r="2.2" fill="#fff" stroke="#222" stroke-width="0.85"/>
<circle cx="377.2" cy="74.2" r="2.2" fill="#fff" stroke="#222" stroke-width="0.85"/>
<circle cx="377.2" cy="85.5" r="2.2" fill="#fff" stroke="#222" stroke-width="0.85"/>
<circle cx="377.2" cy="91.9" r="2.2" fill="#fff" stroke="#222" stroke-width="0.85"/>
<circle cx="377.2" cy="101.8" r="2.2" fill="#fff" stroke="#222" stroke-width="0.85"/>
<circle cx="377.2" cy="93.9" r="2.2" fill="#fff" stroke="#222" stroke-width="0.85"/>
<text x="0" y="0" font-size="8.5" font-style="italic" transform="translate(333.4,168.6) rotate(30)">Baseline</text>
<text x="0" y="0" font-size="8.5" font-style="italic" transform="translate(372.7,168.6) rotate(30)">NA</text>
<line x1="435.2" y1="38.08" x2="435.2" y2="157.58" stroke="#000" stroke-width="1.35"/>
<line x1="430.5" y1="156.9" x2="435.2" y2="156.9" stroke="#000" stroke-width="1.35"/>
<line x1="430.5" y1="97.83" x2="435.2" y2="97.83" stroke="#000" stroke-width="1.35"/>
<line x1="430.5" y1="38.75" x2="435.2" y2="38.75" stroke="#000" stroke-width="1.35"/>
<text x="0" y="0" font-size="9.5" text-anchor="end" transform="translate(427.4,160.5) scale(1,1.15)">0</text>
<text x="0" y="0" font-size="9.5" text-anchor="end" transform="translate(427.4,101.42) scale(1,1.15)">0.5</text>
<text x="0" y="0" font-size="9.5" text-anchor="end" transform="translate(427.4,42.35) scale(1,1.15)">1</text>
<line x1="434.52" y1="156.9" x2="506.93" y2="156.9" stroke="#000" stroke-width="1.35"/>
<line x1="435.2" y1="156.9" x2="435.2" y2="161.9" stroke="#000" stroke-width="1.35"/>
<line x1="470.72" y1="156.9" x2="470.72" y2="161.9" stroke="#000" stroke-width="1.35"/>
<line x1="506.25" y1="156.9" x2="506.25" y2="161.9" stroke="#000" stroke-width="1.35"/>
<text x="0" y="0" font-size="9.5" text-anchor="middle" transform="translate(435.2,173.5) scale(1,1.15)">0</text>
<text x="0" y="0" font-size="9.5" text-anchor="middle" transform="translate(470.72,173.5) scale(1,1.15)">0.5</text>
<text x="0" y="0" font-size="9.5" text-anchor="middle" transform="translate(506.25,173.5) scale(1,1.15)">1</text>
<line x1="435.2" y1="156.9" x2="506.25" y2="38.75" stroke="#000" stroke-width="0.8" stroke-dasharray="1 1.2"/>
<text x="433.3" y="186.1" font-size="10.2">Ratio of mean</text>
<text x="433.3" y="197.6" font-size="10.2">EPSC amplitude</text>
<text font-size="10.3" transform="translate(413.2,124.8) rotate(-90)">Ratio of CV<tspan font-size="7" dy="-4">-2</tspan></text>
<line x1="465.4" y1="126.6" x2="473.6" y2="126.6" stroke="#000" stroke-width="0.9"/>
<line x1="469.6" y1="118.6" x2="469.6" y2="134.2" stroke="#000" stroke-width="0.9"/>
<circle cx="472.6" cy="105.9" r="2.4" fill="#fff" stroke="#222" stroke-width="0.85"/>
<circle cx="473.8" cy="122.7" r="2.4" fill="#fff" stroke="#222" stroke-width="0.85"/>
<circle cx="479.4" cy="123.9" r="2.4" fill="#fff" stroke="#222" stroke-width="0.85"/>
<circle cx="452.5" cy="153.5" r="2.4" fill="#fff" stroke="#222" stroke-width="0.85"/>
<circle cx="469.6" cy="126.6" r="2.6" fill="#aaa" stroke="#222" stroke-width="0.85"/>
<line x1="554.15" y1="39.77" x2="554.15" y2="159.03" stroke="#000" stroke-width="1.35"/>
<line x1="550.3" y1="158.35" x2="554.15" y2="158.35" stroke="#000" stroke-width="1.35"/>
<line x1="550.3" y1="128.87" x2="554.15" y2="128.87" stroke="#000" stroke-width="1.35"/>
<line x1="550.3" y1="99.4" x2="554.15" y2="99.4" stroke="#000" stroke-width="1.35"/>
<line x1="550.3" y1="69.92" x2="554.15" y2="69.92" stroke="#000" stroke-width="1.35"/>
<line x1="550.3" y1="40.45" x2="554.15" y2="40.45" stroke="#000" stroke-width="1.35"/>
<line x1="551.85" y1="143.61" x2="554.15" y2="143.61" stroke="#000" stroke-width="1.35"/>
<line x1="551.85" y1="114.14" x2="554.15" y2="114.14" stroke="#000" stroke-width="1.35"/>
<line x1="551.85" y1="84.66" x2="554.15" y2="84.66" stroke="#000" stroke-width="1.35"/>
<line x1="551.85" y1="55.18" x2="554.15" y2="55.18" stroke="#000" stroke-width="1.35"/>
<text x="0" y="0" font-size="9.5" text-anchor="end" transform="translate(546.8,161.95) scale(1,1.15)">0</text>
<text x="0" y="0" font-size="9.5" text-anchor="end" transform="translate(546.8,132.47) scale(1,1.15)">20</text>
<text x="0" y="0" font-size="9.5" text-anchor="end" transform="translate(546.8,103) scale(1,1.15)">40</text>
<text x="0" y="0" font-size="9.5" text-anchor="end" transform="translate(546.8,73.52) scale(1,1.15)">60</text>
<text x="0" y="0" font-size="9.5" text-anchor="end" transform="translate(546.8,44.05) scale(1,1.15)">80</text>
<line x1="558.38" y1="158.35" x2="677.77" y2="158.35" stroke="#000" stroke-width="1.35"/>
<line x1="559.05" y1="158.35" x2="559.05" y2="161.65" stroke="#000" stroke-width="1.35"/>
<line x1="598.4" y1="158.35" x2="598.4" y2="161.65" stroke="#000" stroke-width="1.35"/>
<line x1="637.75" y1="158.35" x2="637.75" y2="161.65" stroke="#000" stroke-width="1.35"/>
<line x1="677.1" y1="158.35" x2="677.1" y2="161.65" stroke="#000" stroke-width="1.35"/>
<text x="0" y="0" font-size="9.5" text-anchor="middle" transform="translate(559.05,175.3) scale(1,1.15)">0.1</text>
<text x="0" y="0" font-size="9.5" text-anchor="middle" transform="translate(598.4,175.3) scale(1,1.15)">1</text>
<text x="0" y="0" font-size="9.5" text-anchor="middle" transform="translate(637.75,175.3) scale(1,1.15)">10</text>
<text x="0" y="0" font-size="9.5" text-anchor="middle" transform="translate(677.1,175.3) scale(1,1.15)">100</text>
<text x="0" y="0" font-size="9.5" text-anchor="middle" transform="translate(530.82,96.2) rotate(-90)">EPSC inhibition (%)</text>
<text x="596.4" y="191.1" font-size="10.4">NA conc. (&#181;M)</text>
<polyline points="559.05,141.07 559.56,140.69 560.06,140.31 560.57,139.91 561.07,139.52 561.58,139.11 562.08,138.7 562.59,138.28 563.09,137.85 563.6,137.42 564.1,136.99 564.61,136.54 565.11,136.09 565.62,135.63 566.12,135.17 566.63,134.7 567.13,134.22 567.64,133.74 568.14,133.25 568.65,132.75 569.15,132.25 569.66,131.75 570.16,131.23 570.67,130.71 571.17,130.19 571.68,129.66 572.18,129.12 572.69,128.58 573.19,128.03 573.7,127.48 574.2,126.92 574.71,126.35 575.21,125.79 575.72,125.21 576.22,124.63 576.73,124.05 577.24,123.46 577.74,122.87 578.25,122.28 578.75,121.68 579.26,121.08 579.76,120.47 580.27,119.86 580.77,119.25 581.28,118.63 581.78,118.01 582.29,117.39 582.79,116.77 583.3,116.14 583.8,115.52 584.31,114.89 584.81,114.26 585.32,113.62 585.82,112.99 586.33,112.36 586.83,111.72 587.34,111.09 587.84,110.45 588.35,109.82 588.85,109.18 589.36,108.55 589.86,107.91 590.37,107.28 590.87,106.65 591.38,106.02 591.88,105.39 592.39,104.76 592.89,104.14 593.4,103.52 593.9,102.9 594.41,102.28 594.92,101.67 595.42,101.05 595.93,100.45 596.43,99.84 596.94,99.24 597.44,98.64 597.95,98.05 598.45,97.46 598.96,96.88 599.46,96.3 599.97,95.72 600.47,95.15 600.98,94.58 601.48,94.02 601.99,93.47 602.49,92.91 603,92.37 603.5,91.83 604.01,91.3 604.51,90.77 605.02,90.24 605.52,89.73 606.03,89.22 606.53,88.71 607.04,88.21 607.54,87.72 608.05,87.23 608.55,86.75 609.06,86.28 609.56,85.81 610.07,85.35 610.57,84.9 611.08,84.45 611.59,84.01 612.09,83.57 612.6,83.15 613.1,82.72 613.61,82.31 614.11,81.9 614.62,81.5 615.12,81.1 615.63,80.71 616.13,80.33 616.64,79.95 617.14,79.58 617.65,79.22 618.15,78.86 618.66,78.51 619.16,78.16 619.67,77.82 620.17,77.49 620.68,77.16 621.18,76.84 621.69,76.53 622.19,76.22 622.7,75.92 623.2,75.62 623.71,75.33 624.21,75.04 624.72,74.76 625.22,74.49 625.73,74.22 626.23,73.95 626.74,73.7 627.24,73.44 627.75,73.19 628.25,72.95 628.76,72.71 629.27,72.48 629.77,72.25 630.28,72.03 630.78,71.81 631.29,71.6 631.79,71.39 632.3,71.18 632.8,70.98 633.31,70.79 633.81,70.6 634.32,70.41 634.82,70.23 635.33,70.05 635.83,69.87 636.34,69.7 636.84,69.53 637.35,69.37 637.85,69.21 638.36,69.05 638.86,68.9 639.37,68.75 639.87,68.61 640.38,68.46 640.88,68.33 641.39,68.19 641.89,68.06 642.4,67.93 642.9,67.8 643.41,67.68 643.91,67.56 644.42,67.44 644.92,67.32 645.43,67.21 645.93,67.1 646.44,67 646.95,66.89 647.45,66.79 647.96,66.69 648.46,66.59 648.97,66.5 649.47,66.41 649.98,66.32 650.48,66.23 650.99,66.14 651.49,66.06 652,65.98 652.5,65.9 653.01,65.82 653.51,65.75 654.02,65.67 654.52,65.6 655.03,65.53 655.53,65.46 656.04,65.39 656.54,65.33 657.05,65.27 657.55,65.2 658.06,65.14 658.56,65.08 659.07,65.03 659.57,64.97 660.08,64.92 660.58,64.86 661.09,64.81 661.59,64.76 662.1,64.71 662.6,64.66 663.11,64.62 663.61,64.57 664.12,64.53 664.63,64.48 665.13,64.44 665.64,64.4 666.14,64.36 666.65,64.32 667.15,64.28 667.66,64.25 668.16,64.21 668.67,64.17 669.17,64.14 669.68,64.11 670.18,64.07 670.69,64.04 671.19,64.01 671.7,63.98 672.2,63.95 672.71,63.92 673.18,63.9" fill="none" stroke="#000" stroke-width="1.5" stroke-linejoin="round" stroke-dasharray="6.0 2.7"/>
<line x1="570.9" y1="124.2" x2="570.9" y2="128.2" stroke="#000" stroke-width="0.9"/>
<line x1="586.55" y1="114.9" x2="586.55" y2="118.9" stroke="#000" stroke-width="0.9"/>
<line x1="598.4" y1="102.4" x2="598.4" y2="111" stroke="#000" stroke-width="0.9"/>
<line x1="610.25" y1="79.9" x2="610.25" y2="84.9" stroke="#000" stroke-width="0.9"/>
<line x1="625.9" y1="67.6" x2="625.9" y2="70.6" stroke="#000" stroke-width="0.9"/>
<line x1="637.75" y1="70.7" x2="637.75" y2="74.3" stroke="#000" stroke-width="0.9"/>
<line x1="649.6" y1="66.8" x2="649.6" y2="73.4" stroke="#000" stroke-width="0.9"/>
<circle cx="570.9" cy="126.2" r="2.5" fill="#fff" stroke="#222" stroke-width="0.85"/>
<circle cx="586.55" cy="116.9" r="2.5" fill="#fff" stroke="#222" stroke-width="0.85"/>
<circle cx="598.4" cy="106.7" r="2.5" fill="#fff" stroke="#222" stroke-width="0.85"/>
<circle cx="610.25" cy="82.4" r="2.5" fill="#fff" stroke="#222" stroke-width="0.85"/>
<circle cx="625.9" cy="69.1" r="2.5" fill="#fff" stroke="#222" stroke-width="0.85"/>
<circle cx="637.75" cy="72.5" r="2.5" fill="#fff" stroke="#222" stroke-width="0.85"/>
<circle cx="649.6" cy="70.1" r="2.5" fill="#fff" stroke="#222" stroke-width="0.85"/>
<text x="563.8" y="120.2" font-size="10.2">(3)</text>
<text x="574.1" y="107" font-size="10.2">(5)</text>
<text x="587.5" y="91.2" font-size="10.2">(4)</text>
<text x="603.8" y="77.4" font-size="10.2">(5)</text>
<text x="619.8" y="61.8" font-size="10.2">(5)(5)(4)</text>
<line x1="51.6" y1="217.32" x2="51.6" y2="336.73" stroke="#000" stroke-width="1.35"/>
<line x1="47.9" y1="336.05" x2="51.6" y2="336.05" stroke="#000" stroke-width="1.35"/>
<line x1="47.9" y1="296.7" x2="51.6" y2="296.7" stroke="#000" stroke-width="1.35"/>
<line x1="47.9" y1="257.35" x2="51.6" y2="257.35" stroke="#000" stroke-width="1.35"/>
<line x1="47.9" y1="218" x2="51.6" y2="218" stroke="#000" stroke-width="1.35"/>
<line x1="49.4" y1="316.38" x2="51.6" y2="316.38" stroke="#000" stroke-width="1.35"/>
<line x1="49.4" y1="277.02" x2="51.6" y2="277.02" stroke="#000" stroke-width="1.35"/>
<line x1="49.4" y1="237.68" x2="51.6" y2="237.68" stroke="#000" stroke-width="1.35"/>
<text x="0" y="0" font-size="9.5" text-anchor="end" transform="translate(44.2,339.65) scale(1,1.15)">0</text>
<text x="0" y="0" font-size="9.5" text-anchor="end" transform="translate(44.2,300.3) scale(1,1.15)">50</text>
<text x="0" y="0" font-size="9.5" text-anchor="end" transform="translate(44.2,260.95) scale(1,1.15)">100</text>
<text x="0" y="0" font-size="9.5" text-anchor="end" transform="translate(44.2,221.6) scale(1,1.15)">150</text>
<line x1="55.43" y1="336.05" x2="246.18" y2="336.05" stroke="#000" stroke-width="1.35"/>
<line x1="56.1" y1="336.05" x2="56.1" y2="339.8" stroke="#000" stroke-width="1.35"/>
<line x1="103.45" y1="336.05" x2="103.45" y2="339.8" stroke="#000" stroke-width="1.35"/>
<line x1="150.8" y1="336.05" x2="150.8" y2="339.8" stroke="#000" stroke-width="1.35"/>
<line x1="198.15" y1="336.05" x2="198.15" y2="339.8" stroke="#000" stroke-width="1.35"/>
<line x1="245.5" y1="336.05" x2="245.5" y2="339.8" stroke="#000" stroke-width="1.35"/>
<line x1="79.78" y1="336.05" x2="79.78" y2="338.35" stroke="#000" stroke-width="1.35"/>
<line x1="127.12" y1="336.05" x2="127.12" y2="338.35" stroke="#000" stroke-width="1.35"/>
<line x1="174.48" y1="336.05" x2="174.48" y2="338.35" stroke="#000" stroke-width="1.35"/>
<line x1="221.83" y1="336.05" x2="221.83" y2="338.35" stroke="#000" stroke-width="1.35"/>
<text x="0" y="0" font-size="9.5" text-anchor="middle" transform="translate(103.45,352.4) scale(1,1.15)">0</text>
<text x="0" y="0" font-size="9.5" text-anchor="middle" transform="translate(150.8,352.4) scale(1,1.15)">10</text>
<text x="0" y="0" font-size="9.5" text-anchor="middle" transform="translate(198.15,352.4) scale(1,1.15)">20</text>
<text x="0" y="0" font-size="9.5" text-anchor="middle" transform="translate(245.5,352.4) scale(1,1.15)">30</text>
<text x="150.8" y="365.5" font-size="10.2" text-anchor="middle">Time (min)</text>
<text x="0" y="0" font-size="10.4" text-anchor="middle" transform="translate(21.94,274.5) rotate(-90)">EPSC Amplitude (%)</text>
<text x="96.6" y="232" font-size="10.2">5 &#181;M PE</text>
<text x="159.6" y="232" font-size="10.2">5 &#181;M Clon</text>
<rect x="103.7" y="240" width="23.5" height="3.3" fill="#888" stroke="none" stroke-width="0"/>
<rect x="160.1" y="240" width="23.9" height="3.4" fill="#000" stroke="none" stroke-width="0"/>
<line x1="106.45" y1="257.35" x2="245.5" y2="257.35" stroke="#000" stroke-width="1.1" stroke-dasharray="2.2 1.65"/>
<line x1="56.1" y1="257.89" x2="56.1" y2="262.75" stroke="#000" stroke-width="0.75"/>
<line x1="57.99" y1="258.2" x2="57.99" y2="262.29" stroke="#000" stroke-width="0.75"/>
<line x1="59.89" y1="252.8" x2="59.89" y2="258.53" stroke="#000" stroke-width="0.75"/>
<line x1="61.78" y1="259.73" x2="61.78" y2="266.53" stroke="#000" stroke-width="0.75"/>
<line x1="63.68" y1="255.16" x2="63.68" y2="260.26" stroke="#000" stroke-width="0.75"/>
<line x1="65.57" y1="260.56" x2="65.57" y2="265.5" stroke="#000" stroke-width="0.75"/>
<line x1="67.46" y1="252.95" x2="67.46" y2="256.21" stroke="#000" stroke-width="0.75"/>
<line x1="69.36" y1="253.23" x2="69.36" y2="260.45" stroke="#000" stroke-width="0.75"/>
<line x1="71.25" y1="252.36" x2="71.25" y2="255.51" stroke="#000" stroke-width="0.75"/>
<line x1="73.15" y1="255.98" x2="73.15" y2="261.25" stroke="#000" stroke-width="0.75"/>
<line x1="75.04" y1="252.92" x2="75.04" y2="259.78" stroke="#000" stroke-width="0.75"/>
<line x1="76.93" y1="256.27" x2="76.93" y2="259.87" stroke="#000" stroke-width="0.75"/>
<line x1="78.83" y1="256.03" x2="78.83" y2="262.39" stroke="#000" stroke-width="0.75"/>
<line x1="80.72" y1="253.3" x2="80.72" y2="260.67" stroke="#000" stroke-width="0.75"/>
<line x1="82.62" y1="257.57" x2="82.62" y2="263.47" stroke="#000" stroke-width="0.75"/>
<line x1="84.51" y1="254.93" x2="84.51" y2="261.56" stroke="#000" stroke-width="0.75"/>
<line x1="86.4" y1="253.85" x2="86.4" y2="257.34" stroke="#000" stroke-width="0.75"/>
<line x1="88.3" y1="254.71" x2="88.3" y2="259.7" stroke="#000" stroke-width="0.75"/>
<line x1="90.19" y1="256.54" x2="90.19" y2="260.23" stroke="#000" stroke-width="0.75"/>
<line x1="92.09" y1="248.39" x2="92.09" y2="255.28" stroke="#000" stroke-width="0.75"/>
<line x1="93.98" y1="255.03" x2="93.98" y2="259.38" stroke="#000" stroke-width="0.75"/>
<line x1="95.87" y1="256.29" x2="95.87" y2="261.37" stroke="#000" stroke-width="0.75"/>
<line x1="97.77" y1="253.15" x2="97.77" y2="260.75" stroke="#000" stroke-width="0.75"/>
<line x1="99.66" y1="255.21" x2="99.66" y2="262.13" stroke="#000" stroke-width="0.75"/>
<line x1="101.56" y1="254.58" x2="101.56" y2="262.06" stroke="#000" stroke-width="0.75"/>
<line x1="103.45" y1="255.36" x2="103.45" y2="260.44" stroke="#000" stroke-width="0.75"/>
<line x1="105.34" y1="253.35" x2="105.34" y2="258.6" stroke="#000" stroke-width="0.75"/>
<line x1="107.24" y1="257.76" x2="107.24" y2="264.11" stroke="#000" stroke-width="0.75"/>
<line x1="109.13" y1="259.9" x2="109.13" y2="265.11" stroke="#000" stroke-width="0.75"/>
<line x1="111.03" y1="261.36" x2="111.03" y2="265.7" stroke="#000" stroke-width="0.75"/>
<line x1="112.92" y1="259.84" x2="112.92" y2="264.7" stroke="#000" stroke-width="0.75"/>
<line x1="114.81" y1="265.02" x2="114.81" y2="268.7" stroke="#000" stroke-width="0.75"/>
<line x1="116.71" y1="265.31" x2="116.71" y2="270.04" stroke="#000" stroke-width="0.75"/>
<line x1="118.6" y1="257.56" x2="118.6" y2="265.11" stroke="#000" stroke-width="0.75"/>
<line x1="120.5" y1="265.68" x2="120.5" y2="273.09" stroke="#000" stroke-width="0.75"/>
<line x1="122.39" y1="264.21" x2="122.39" y2="270.09" stroke="#000" stroke-width="0.75"/>
<line x1="124.28" y1="262.39" x2="124.28" y2="267.68" stroke="#000" stroke-width="0.75"/>
<line x1="126.18" y1="259.45" x2="126.18" y2="264.01" stroke="#000" stroke-width="0.75"/>
<line x1="128.07" y1="266.64" x2="128.07" y2="270.05" stroke="#000" stroke-width="0.75"/>
<line x1="129.97" y1="269.24" x2="129.97" y2="273.49" stroke="#000" stroke-width="0.75"/>
<line x1="131.86" y1="261.75" x2="131.86" y2="268.35" stroke="#000" stroke-width="0.75"/>
<line x1="133.75" y1="263.97" x2="133.75" y2="270.96" stroke="#000" stroke-width="0.75"/>
<line x1="135.65" y1="264.86" x2="135.65" y2="269.52" stroke="#000" stroke-width="0.75"/>
<line x1="137.54" y1="262.02" x2="137.54" y2="268.63" stroke="#000" stroke-width="0.75"/>
<line x1="139.44" y1="261.9" x2="139.44" y2="268.46" stroke="#000" stroke-width="0.75"/>
<line x1="141.33" y1="261.41" x2="141.33" y2="267.61" stroke="#000" stroke-width="0.75"/>
<line x1="143.22" y1="262.18" x2="143.22" y2="268.24" stroke="#000" stroke-width="0.75"/>
<line x1="145.12" y1="258.43" x2="145.12" y2="264.92" stroke="#000" stroke-width="0.75"/>
<line x1="147.01" y1="258.41" x2="147.01" y2="263.08" stroke="#000" stroke-width="0.75"/>
<line x1="148.91" y1="259.63" x2="148.91" y2="265.87" stroke="#000" stroke-width="0.75"/>
<line x1="150.8" y1="260.88" x2="150.8" y2="265.18" stroke="#000" stroke-width="0.75"/>
<line x1="152.69" y1="257.81" x2="152.69" y2="263.04" stroke="#000" stroke-width="0.75"/>
<line x1="154.59" y1="257.04" x2="154.59" y2="263.58" stroke="#000" stroke-width="0.75"/>
<line x1="156.48" y1="259.3" x2="156.48" y2="265.48" stroke="#000" stroke-width="0.75"/>
<line x1="158.38" y1="258.65" x2="158.38" y2="263" stroke="#000" stroke-width="0.75"/>
<line x1="160.27" y1="253.99" x2="160.27" y2="261.34" stroke="#000" stroke-width="0.75"/>
<line x1="162.16" y1="254.43" x2="162.16" y2="260.42" stroke="#000" stroke-width="0.75"/>
<line x1="164.06" y1="254.77" x2="164.06" y2="260.44" stroke="#000" stroke-width="0.75"/>
<line x1="165.95" y1="262.55" x2="165.95" y2="265.6" stroke="#000" stroke-width="0.75"/>
<line x1="167.85" y1="267.72" x2="167.85" y2="273.24" stroke="#000" stroke-width="0.75"/>
<line x1="169.74" y1="272.34" x2="169.74" y2="276.49" stroke="#000" stroke-width="0.75"/>
<line x1="171.63" y1="277.54" x2="171.63" y2="283.63" stroke="#000" stroke-width="0.75"/>
<line x1="173.53" y1="273.15" x2="173.53" y2="278.28" stroke="#000" stroke-width="0.75"/>
<line x1="175.42" y1="276.35" x2="175.42" y2="283.11" stroke="#000" stroke-width="0.75"/>
<line x1="177.32" y1="279.49" x2="177.32" y2="285.47" stroke="#000" stroke-width="0.75"/>
<line x1="179.21" y1="276.33" x2="179.21" y2="283" stroke="#000" stroke-width="0.75"/>
<line x1="181.1" y1="278.94" x2="181.1" y2="283.54" stroke="#000" stroke-width="0.75"/>
<line x1="183" y1="279.03" x2="183" y2="284.99" stroke="#000" stroke-width="0.75"/>
<line x1="184.89" y1="277.11" x2="184.89" y2="283.5" stroke="#000" stroke-width="0.75"/>
<line x1="186.79" y1="274.81" x2="186.79" y2="281.62" stroke="#000" stroke-width="0.75"/>
<line x1="188.68" y1="279.08" x2="188.68" y2="283.69" stroke="#000" stroke-width="0.75"/>
<line x1="190.57" y1="276.13" x2="190.57" y2="283" stroke="#000" stroke-width="0.75"/>
<line x1="192.47" y1="275.06" x2="192.47" y2="282.06" stroke="#000" stroke-width="0.75"/>
<line x1="194.36" y1="281.25" x2="194.36" y2="287.42" stroke="#000" stroke-width="0.75"/>
<line x1="196.26" y1="279.71" x2="196.26" y2="287.2" stroke="#000" stroke-width="0.75"/>
<line x1="198.15" y1="277.41" x2="198.15" y2="284.81" stroke="#000" stroke-width="0.75"/>
<line x1="200.04" y1="282.92" x2="200.04" y2="288.3" stroke="#000" stroke-width="0.75"/>
<line x1="201.94" y1="280.29" x2="201.94" y2="285.73" stroke="#000" stroke-width="0.75"/>
<line x1="203.83" y1="278.31" x2="203.83" y2="282.07" stroke="#000" stroke-width="0.75"/>
<line x1="205.73" y1="277.22" x2="205.73" y2="284.07" stroke="#000" stroke-width="0.75"/>
<line x1="207.62" y1="277.83" x2="207.62" y2="285.14" stroke="#000" stroke-width="0.75"/>
<line x1="209.51" y1="283.37" x2="209.51" y2="288.56" stroke="#000" stroke-width="0.75"/>
<line x1="211.41" y1="275.19" x2="211.41" y2="281.37" stroke="#000" stroke-width="0.75"/>
<line x1="213.3" y1="278.38" x2="213.3" y2="284.69" stroke="#000" stroke-width="0.75"/>
<line x1="215.2" y1="277.97" x2="215.2" y2="284.32" stroke="#000" stroke-width="0.75"/>
<line x1="217.09" y1="279.74" x2="217.09" y2="283.53" stroke="#000" stroke-width="0.75"/>
<line x1="218.98" y1="282.35" x2="218.98" y2="288.94" stroke="#000" stroke-width="0.75"/>
<line x1="220.88" y1="282.3" x2="220.88" y2="287.97" stroke="#000" stroke-width="0.75"/>
<line x1="222.77" y1="281.71" x2="222.77" y2="287.77" stroke="#000" stroke-width="0.75"/>
<line x1="224.67" y1="276.59" x2="224.67" y2="281.53" stroke="#000" stroke-width="0.75"/>
<line x1="226.56" y1="281.1" x2="226.56" y2="286.97" stroke="#000" stroke-width="0.75"/>
<line x1="228.45" y1="279.69" x2="228.45" y2="286.25" stroke="#000" stroke-width="0.75"/>
<line x1="230.35" y1="280.03" x2="230.35" y2="285.96" stroke="#000" stroke-width="0.75"/>
<line x1="232.24" y1="278.34" x2="232.24" y2="284.66" stroke="#000" stroke-width="0.75"/>
<line x1="234.14" y1="280.06" x2="234.14" y2="283.19" stroke="#000" stroke-width="0.75"/>
<line x1="236.03" y1="280.18" x2="236.03" y2="283.92" stroke="#000" stroke-width="0.75"/>
<line x1="237.92" y1="282.3" x2="237.92" y2="287.33" stroke="#000" stroke-width="0.75"/>
<line x1="239.82" y1="285.22" x2="239.82" y2="291.21" stroke="#000" stroke-width="0.75"/>
<line x1="241.71" y1="280.23" x2="241.71" y2="284.24" stroke="#000" stroke-width="0.75"/>
<line x1="243.61" y1="278.97" x2="243.61" y2="285.13" stroke="#000" stroke-width="0.75"/>
<line x1="245.5" y1="277.36" x2="245.5" y2="283.26" stroke="#000" stroke-width="0.75"/>
<circle cx="56.1" cy="260.32" r="2.35" fill="#fff" stroke="#222" stroke-width="0.85"/>
<circle cx="57.99" cy="260.24" r="2.35" fill="#fff" stroke="#222" stroke-width="0.85"/>
<circle cx="59.89" cy="255.66" r="2.35" fill="#fff" stroke="#222" stroke-width="0.85"/>
<circle cx="61.78" cy="263.13" r="2.35" fill="#fff" stroke="#222" stroke-width="0.85"/>
<circle cx="63.68" cy="257.71" r="2.35" fill="#fff" stroke="#222" stroke-width="0.85"/>
<circle cx="65.57" cy="263.03" r="2.35" fill="#fff" stroke="#222" stroke-width="0.85"/>
<circle cx="67.46" cy="254.58" r="2.35" fill="#fff" stroke="#222" stroke-width="0.85"/>
<circle cx="69.36" cy="256.84" r="2.35" fill="#fff" stroke="#222" stroke-width="0.85"/>
<circle cx="71.25" cy="253.93" r="2.35" fill="#fff" stroke="#222" stroke-width="0.85"/>
<circle cx="73.15" cy="258.62" r="2.35" fill="#fff" stroke="#222" stroke-width="0.85"/>
<circle cx="75.04" cy="256.35" r="2.35" fill="#fff" stroke="#222" stroke-width="0.85"/>
<circle cx="76.93" cy="258.07" r="2.35" fill="#fff" stroke="#222" stroke-width="0.85"/>
<circle cx="78.83" cy="259.21" r="2.35" fill="#fff" stroke="#222" stroke-width="0.85"/>
<circle cx="80.72" cy="256.98" r="2.35" fill="#fff" stroke="#222" stroke-width="0.85"/>
<circle cx="82.62" cy="260.52" r="2.35" fill="#fff" stroke="#222" stroke-width="0.85"/>
<circle cx="84.51" cy="258.24" r="2.35" fill="#fff" stroke="#222" stroke-width="0.85"/>
<circle cx="86.4" cy="255.6" r="2.35" fill="#fff" stroke="#222" stroke-width="0.85"/>
<circle cx="88.3" cy="257.21" r="2.35" fill="#fff" stroke="#222" stroke-width="0.85"/>
<circle cx="90.19" cy="258.38" r="2.35" fill="#fff" stroke="#222" stroke-width="0.85"/>
<circle cx="92.09" cy="251.84" r="2.35" fill="#fff" stroke="#222" stroke-width="0.85"/>
<circle cx="93.98" cy="257.2" r="2.35" fill="#fff" stroke="#222" stroke-width="0.85"/>
<circle cx="95.87" cy="258.83" r="2.35" fill="#fff" stroke="#222" stroke-width="0.85"/>
<circle cx="97.77" cy="256.95" r="2.35" fill="#fff" stroke="#222" stroke-width="0.85"/>
<circle cx="99.66" cy="258.67" r="2.35" fill="#fff" stroke="#222" stroke-width="0.85"/>
<circle cx="101.56" cy="258.32" r="2.35" fill="#fff" stroke="#222" stroke-width="0.85"/>
<circle cx="103.45" cy="257.9" r="2.35" fill="#fff" stroke="#222" stroke-width="0.85"/>
<circle cx="105.34" cy="255.97" r="2.35" fill="#fff" stroke="#222" stroke-width="0.85"/>
<circle cx="107.24" cy="260.93" r="2.35" fill="#fff" stroke="#222" stroke-width="0.85"/>
<circle cx="109.13" cy="262.5" r="2.35" fill="#fff" stroke="#222" stroke-width="0.85"/>
<circle cx="111.03" cy="263.53" r="2.35" fill="#fff" stroke="#222" stroke-width="0.85"/>
<circle cx="112.92" cy="262.27" r="2.35" fill="#fff" stroke="#222" stroke-width="0.85"/>
<circle cx="114.81" cy="266.86" r="2.35" fill="#fff" stroke="#222" stroke-width="0.85"/>
<circle cx="116.71" cy="267.68" r="2.35" fill="#fff" stroke="#222" stroke-width="0.85"/>
<circle cx="118.6" cy="261.34" r="2.35" fill="#fff" stroke="#222" stroke-width="0.85"/>
<circle cx="120.5" cy="269.39" r="2.35" fill="#fff" stroke="#222" stroke-width="0.85"/>
<circle cx="122.39" cy="267.15" r="2.35" fill="#fff" stroke="#222" stroke-width="0.85"/>
<circle cx="124.28" cy="265.04" r="2.35" fill="#fff" stroke="#222" stroke-width="0.85"/>
<circle cx="126.18" cy="261.73" r="2.35" fill="#fff" stroke="#222" stroke-width="0.85"/>
<circle cx="128.07" cy="268.34" r="2.35" fill="#fff" stroke="#222" stroke-width="0.85"/>
<circle cx="129.97" cy="271.37" r="2.35" fill="#fff" stroke="#222" stroke-width="0.85"/>
<circle cx="131.86" cy="265.05" r="2.35" fill="#fff" stroke="#222" stroke-width="0.85"/>
<circle cx="133.75" cy="267.47" r="2.35" fill="#fff" stroke="#222" stroke-width="0.85"/>
<circle cx="135.65" cy="267.19" r="2.35" fill="#fff" stroke="#222" stroke-width="0.85"/>
<circle cx="137.54" cy="265.32" r="2.35" fill="#fff" stroke="#222" stroke-width="0.85"/>
<circle cx="139.44" cy="265.18" r="2.35" fill="#fff" stroke="#222" stroke-width="0.85"/>
<circle cx="141.33" cy="264.51" r="2.35" fill="#fff" stroke="#222" stroke-width="0.85"/>
<circle cx="143.22" cy="265.21" r="2.35" fill="#fff" stroke="#222" stroke-width="0.85"/>
<circle cx="145.12" cy="261.68" r="2.35" fill="#fff" stroke="#222" stroke-width="0.85"/>
<circle cx="147.01" cy="260.75" r="2.35" fill="#fff" stroke="#222" stroke-width="0.85"/>
<circle cx="148.91" cy="262.75" r="2.35" fill="#fff" stroke="#222" stroke-width="0.85"/>
<circle cx="150.8" cy="263.03" r="2.35" fill="#fff" stroke="#222" stroke-width="0.85"/>
<circle cx="152.69" cy="260.42" r="2.35" fill="#fff" stroke="#222" stroke-width="0.85"/>
<circle cx="154.59" cy="260.31" r="2.35" fill="#fff" stroke="#222" stroke-width="0.85"/>
<circle cx="156.48" cy="262.39" r="2.35" fill="#fff" stroke="#222" stroke-width="0.85"/>
<circle cx="158.38" cy="260.83" r="2.35" fill="#fff" stroke="#222" stroke-width="0.85"/>
<circle cx="160.27" cy="257.66" r="2.35" fill="#fff" stroke="#222" stroke-width="0.85"/>
<circle cx="162.16" cy="257.43" r="2.35" fill="#fff" stroke="#222" stroke-width="0.85"/>
<circle cx="164.06" cy="257.61" r="2.35" fill="#fff" stroke="#222" stroke-width="0.85"/>
<circle cx="165.95" cy="264.08" r="2.35" fill="#fff" stroke="#222" stroke-width="0.85"/>
<circle cx="167.85" cy="270.48" r="2.35" fill="#fff" stroke="#222" stroke-width="0.85"/>
<circle cx="169.74" cy="274.42" r="2.35" fill="#fff" stroke="#222" stroke-width="0.85"/>
<circle cx="171.63" cy="280.58" r="2.35" fill="#fff" stroke="#222" stroke-width="0.85"/>
<circle cx="173.53" cy="275.72" r="2.35" fill="#fff" stroke="#222" stroke-width="0.85"/>
<circle cx="175.42" cy="279.73" r="2.35" fill="#fff" stroke="#222" stroke-width="0.85"/>
<circle cx="177.32" cy="282.48" r="2.35" fill="#fff" stroke="#222" stroke-width="0.85"/>
<circle cx="179.21" cy="279.66" r="2.35" fill="#fff" stroke="#222" stroke-width="0.85"/>
<circle cx="181.1" cy="281.24" r="2.35" fill="#fff" stroke="#222" stroke-width="0.85"/>
<circle cx="183" cy="282.01" r="2.35" fill="#fff" stroke="#222" stroke-width="0.85"/>
<circle cx="184.89" cy="280.31" r="2.35" fill="#fff" stroke="#222" stroke-width="0.85"/>
<circle cx="186.79" cy="278.22" r="2.35" fill="#fff" stroke="#222" stroke-width="0.85"/>
<circle cx="188.68" cy="281.38" r="2.35" fill="#fff" stroke="#222" stroke-width="0.85"/>
<circle cx="190.57" cy="279.57" r="2.35" fill="#fff" stroke="#222" stroke-width="0.85"/>
<circle cx="192.47" cy="278.56" r="2.35" fill="#fff" stroke="#222" stroke-width="0.85"/>
<circle cx="194.36" cy="284.34" r="2.35" fill="#fff" stroke="#222" stroke-width="0.85"/>
<circle cx="196.26" cy="283.45" r="2.35" fill="#fff" stroke="#222" stroke-width="0.85"/>
<circle cx="198.15" cy="281.11" r="2.35" fill="#fff" stroke="#222" stroke-width="0.85"/>
<circle cx="200.04" cy="285.61" r="2.35" fill="#fff" stroke="#222" stroke-width="0.85"/>
<circle cx="201.94" cy="283.01" r="2.35" fill="#fff" stroke="#222" stroke-width="0.85"/>
<circle cx="203.83" cy="280.19" r="2.35" fill="#fff" stroke="#222" stroke-width="0.85"/>
<circle cx="205.73" cy="280.64" r="2.35" fill="#fff" stroke="#222" stroke-width="0.85"/>
<circle cx="207.62" cy="281.48" r="2.35" fill="#fff" stroke="#222" stroke-width="0.85"/>
<circle cx="209.51" cy="285.96" r="2.35" fill="#fff" stroke="#222" stroke-width="0.85"/>
<circle cx="211.41" cy="278.28" r="2.35" fill="#fff" stroke="#222" stroke-width="0.85"/>
<circle cx="213.3" cy="281.54" r="2.35" fill="#fff" stroke="#222" stroke-width="0.85"/>
<circle cx="215.2" cy="281.14" r="2.35" fill="#fff" stroke="#222" stroke-width="0.85"/>
<circle cx="217.09" cy="281.64" r="2.35" fill="#fff" stroke="#222" stroke-width="0.85"/>
<circle cx="218.98" cy="285.64" r="2.35" fill="#fff" stroke="#222" stroke-width="0.85"/>
<circle cx="220.88" cy="285.13" r="2.35" fill="#fff" stroke="#222" stroke-width="0.85"/>
<circle cx="222.77" cy="284.74" r="2.35" fill="#fff" stroke="#222" stroke-width="0.85"/>
<circle cx="224.67" cy="279.06" r="2.35" fill="#fff" stroke="#222" stroke-width="0.85"/>
<circle cx="226.56" cy="284.04" r="2.35" fill="#fff" stroke="#222" stroke-width="0.85"/>
<circle cx="228.45" cy="282.97" r="2.35" fill="#fff" stroke="#222" stroke-width="0.85"/>
<circle cx="230.35" cy="283" r="2.35" fill="#fff" stroke="#222" stroke-width="0.85"/>
<circle cx="232.24" cy="281.5" r="2.35" fill="#fff" stroke="#222" stroke-width="0.85"/>
<circle cx="234.14" cy="281.63" r="2.35" fill="#fff" stroke="#222" stroke-width="0.85"/>
<circle cx="236.03" cy="282.05" r="2.35" fill="#fff" stroke="#222" stroke-width="0.85"/>
<circle cx="237.92" cy="284.82" r="2.35" fill="#fff" stroke="#222" stroke-width="0.85"/>
<circle cx="239.82" cy="288.22" r="2.35" fill="#fff" stroke="#222" stroke-width="0.85"/>
<circle cx="241.71" cy="282.23" r="2.35" fill="#fff" stroke="#222" stroke-width="0.85"/>
<circle cx="243.61" cy="282.05" r="2.35" fill="#fff" stroke="#222" stroke-width="0.85"/>
<circle cx="245.5" cy="280.31" r="2.35" fill="#fff" stroke="#222" stroke-width="0.85"/>
<line x1="290.7" y1="216.88" x2="290.7" y2="336.28" stroke="#000" stroke-width="1.35"/>
<line x1="286" y1="335.6" x2="290.7" y2="335.6" stroke="#000" stroke-width="1.35"/>
<line x1="286" y1="296.25" x2="290.7" y2="296.25" stroke="#000" stroke-width="1.35"/>
<line x1="286" y1="256.9" x2="290.7" y2="256.9" stroke="#000" stroke-width="1.35"/>
<line x1="286" y1="217.55" x2="290.7" y2="217.55" stroke="#000" stroke-width="1.35"/>
<text x="0" y="0" font-size="9.5" text-anchor="end" transform="translate(283,339.2) scale(1,1.15)">0</text>
<text x="0" y="0" font-size="9.5" text-anchor="end" transform="translate(283,299.85) scale(1,1.15)">0.5</text>
<text x="0" y="0" font-size="9.5" text-anchor="end" transform="translate(283,260.5) scale(1,1.15)">1</text>
<text x="0" y="0" font-size="9.5" text-anchor="end" transform="translate(283,221.15) scale(1,1.15)">1.5</text>
<line x1="295.2" y1="335.6" x2="366.7" y2="335.6" stroke="#000" stroke-width="1.35"/>
<text x="0" y="0" font-size="10.4" text-anchor="middle" transform="translate(264.74,276.4) rotate(-90)">Paired-pulse ratio</text>
<rect x="305.4" y="277.4" width="20.6" height="58.4" fill="#fff" stroke="#000" stroke-width="1.35"/>
<rect x="336.2" y="267.1" width="20.3" height="68.7" fill="#fff" stroke="#000" stroke-width="1.35"/>
<line x1="310.5" y1="275.2" x2="316" y2="275.2" stroke="#000" stroke-width="0.9"/>
<line x1="313.2" y1="267.1" x2="348.8" y2="261.7" stroke="#000" stroke-width="0.75" stroke-dasharray="1 1"/>
<line x1="313.2" y1="272" x2="348.8" y2="265.5" stroke="#000" stroke-width="0.75" stroke-dasharray="1 1"/>
<line x1="313.2" y1="280.1" x2="348.8" y2="268.7" stroke="#000" stroke-width="0.75" stroke-dasharray="1 1"/>
<line x1="313.2" y1="282.6" x2="348.8" y2="272.8" stroke="#000" stroke-width="0.75" stroke-dasharray="1 1"/>
<line x1="313.2" y1="283.6" x2="348.8" y2="270.5" stroke="#000" stroke-width="0.75" stroke-dasharray="1 1"/>
<circle cx="313.2" cy="267.1" r="2.2" fill="#fff" stroke="#222" stroke-width="0.85"/>
<circle cx="313.2" cy="272" r="2.2" fill="#fff" stroke="#222" stroke-width="0.85"/>
<circle cx="313.2" cy="280.1" r="2.2" fill="#fff" stroke="#222" stroke-width="0.85"/>
<circle cx="313.2" cy="282.6" r="2.2" fill="#fff" stroke="#222" stroke-width="0.85"/>
<circle cx="313.2" cy="283.6" r="2.2" fill="#fff" stroke="#222" stroke-width="0.85"/>
<circle cx="348.8" cy="261.7" r="2.2" fill="#fff" stroke="#222" stroke-width="0.85"/>
<circle cx="348.8" cy="265.5" r="2.2" fill="#fff" stroke="#222" stroke-width="0.85"/>
<circle cx="348.8" cy="268.7" r="2.2" fill="#fff" stroke="#222" stroke-width="0.85"/>
<circle cx="348.8" cy="272.8" r="2.2" fill="#fff" stroke="#222" stroke-width="0.85"/>
<circle cx="348.8" cy="270.5" r="2.2" fill="#fff" stroke="#222" stroke-width="0.85"/>
<text x="0" y="0" font-size="8.5" font-style="italic" transform="translate(305.0,347.6) rotate(30)">Baseline</text>
<text x="0" y="0" font-size="8.5" font-style="italic" transform="translate(342.3,347.6) rotate(30)">Clon</text>
<line x1="413.6" y1="217.32" x2="413.6" y2="336.73" stroke="#000" stroke-width="1.35"/>
<line x1="409.9" y1="336.05" x2="413.6" y2="336.05" stroke="#000" stroke-width="1.35"/>
<line x1="409.9" y1="296.7" x2="413.6" y2="296.7" stroke="#000" stroke-width="1.35"/>
<line x1="409.9" y1="257.35" x2="413.6" y2="257.35" stroke="#000" stroke-width="1.35"/>
<line x1="409.9" y1="218" x2="413.6" y2="218" stroke="#000" stroke-width="1.35"/>
<line x1="411.4" y1="316.38" x2="413.6" y2="316.38" stroke="#000" stroke-width="1.35"/>
<line x1="411.4" y1="277.02" x2="413.6" y2="277.02" stroke="#000" stroke-width="1.35"/>
<line x1="411.4" y1="237.68" x2="413.6" y2="237.68" stroke="#000" stroke-width="1.35"/>
<text x="0" y="0" font-size="9.5" text-anchor="end" transform="translate(406.1,339.65) scale(1,1.15)">0</text>
<text x="0" y="0" font-size="9.5" text-anchor="end" transform="translate(406.1,300.3) scale(1,1.15)">50</text>
<text x="0" y="0" font-size="9.5" text-anchor="end" transform="translate(406.1,260.95) scale(1,1.15)">100</text>
<text x="0" y="0" font-size="9.5" text-anchor="end" transform="translate(406.1,221.6) scale(1,1.15)">150</text>
<line x1="417.73" y1="336" x2="560.52" y2="336" stroke="#000" stroke-width="1.35"/>
<line x1="418.4" y1="336" x2="418.4" y2="339.75" stroke="#000" stroke-width="1.35"/>
<line x1="465.55" y1="336" x2="465.55" y2="339.75" stroke="#000" stroke-width="1.35"/>
<line x1="512.7" y1="336" x2="512.7" y2="339.75" stroke="#000" stroke-width="1.35"/>
<line x1="559.85" y1="336" x2="559.85" y2="339.75" stroke="#000" stroke-width="1.35"/>
<line x1="441.98" y1="336" x2="441.98" y2="338.3" stroke="#000" stroke-width="1.35"/>
<line x1="489.12" y1="336" x2="489.12" y2="338.3" stroke="#000" stroke-width="1.35"/>
<line x1="536.27" y1="336" x2="536.27" y2="338.3" stroke="#000" stroke-width="1.35"/>
<text x="0" y="0" font-size="9.5" text-anchor="middle" transform="translate(465.55,352.4) scale(1,1.15)">0</text>
<text x="0" y="0" font-size="9.5" text-anchor="middle" transform="translate(512.7,352.4) scale(1,1.15)">10</text>
<text x="0" y="0" font-size="9.5" text-anchor="middle" transform="translate(559.85,352.4) scale(1,1.15)">20</text>
<text x="490.4" y="365.5" font-size="10.2" text-anchor="middle">Time (min)</text>
<text x="0" y="0" font-size="10.4" text-anchor="middle" transform="translate(388.14,276.1) rotate(-90)">EPSC Amplitude (%)</text>
<text x="456.3" y="233.8" font-size="10.2">5 &#181;M Dex</text>
<rect x="465.95" y="239.8" width="23.6" height="3.5" fill="#000" stroke="none" stroke-width="0"/>
<line x1="468.55" y1="257.35" x2="559.85" y2="257.35" stroke="#000" stroke-width="1.1" stroke-dasharray="2.2 1.65"/>
<line x1="418.4" y1="257.62" x2="418.4" y2="262.88" stroke="#000" stroke-width="0.75"/>
<line x1="420.29" y1="254.08" x2="420.29" y2="261.27" stroke="#000" stroke-width="0.75"/>
<line x1="422.17" y1="250.75" x2="422.17" y2="259.79" stroke="#000" stroke-width="0.75"/>
<line x1="424.06" y1="250.28" x2="424.06" y2="258.82" stroke="#000" stroke-width="0.75"/>
<line x1="425.94" y1="250.22" x2="425.94" y2="259.87" stroke="#000" stroke-width="0.75"/>
<line x1="427.83" y1="254.38" x2="427.83" y2="259.9" stroke="#000" stroke-width="0.75"/>
<line x1="429.72" y1="252.79" x2="429.72" y2="259.87" stroke="#000" stroke-width="0.75"/>
<line x1="431.6" y1="252.19" x2="431.6" y2="262.38" stroke="#000" stroke-width="0.75"/>
<line x1="433.49" y1="254.99" x2="433.49" y2="263.49" stroke="#000" stroke-width="0.75"/>
<line x1="435.37" y1="253.47" x2="435.37" y2="261.17" stroke="#000" stroke-width="0.75"/>
<line x1="437.26" y1="250.55" x2="437.26" y2="257.97" stroke="#000" stroke-width="0.75"/>
<line x1="439.15" y1="250.06" x2="439.15" y2="260.98" stroke="#000" stroke-width="0.75"/>
<line x1="441.03" y1="252.32" x2="441.03" y2="260.76" stroke="#000" stroke-width="0.75"/>
<line x1="442.92" y1="255.38" x2="442.92" y2="260.49" stroke="#000" stroke-width="0.75"/>
<line x1="444.8" y1="250.99" x2="444.8" y2="260.78" stroke="#000" stroke-width="0.75"/>
<line x1="446.69" y1="253.34" x2="446.69" y2="260.31" stroke="#000" stroke-width="0.75"/>
<line x1="448.58" y1="251.74" x2="448.58" y2="259.35" stroke="#000" stroke-width="0.75"/>
<line x1="450.46" y1="251.5" x2="450.46" y2="257.78" stroke="#000" stroke-width="0.75"/>
<line x1="452.35" y1="256.47" x2="452.35" y2="264.14" stroke="#000" stroke-width="0.75"/>
<line x1="454.23" y1="252.44" x2="454.23" y2="259.39" stroke="#000" stroke-width="0.75"/>
<line x1="456.12" y1="256.04" x2="456.12" y2="261.57" stroke="#000" stroke-width="0.75"/>
<line x1="458.01" y1="253.46" x2="458.01" y2="262.24" stroke="#000" stroke-width="0.75"/>
<line x1="459.89" y1="255.81" x2="459.89" y2="261.43" stroke="#000" stroke-width="0.75"/>
<line x1="461.78" y1="249.15" x2="461.78" y2="258.86" stroke="#000" stroke-width="0.75"/>
<line x1="463.66" y1="252.52" x2="463.66" y2="257.67" stroke="#000" stroke-width="0.75"/>
<line x1="465.55" y1="252.12" x2="465.55" y2="261.8" stroke="#000" stroke-width="0.75"/>
<line x1="467.44" y1="258.18" x2="467.44" y2="268.03" stroke="#000" stroke-width="0.75"/>
<line x1="469.32" y1="267.64" x2="469.32" y2="275.62" stroke="#000" stroke-width="0.75"/>
<line x1="471.21" y1="273.19" x2="471.21" y2="282.45" stroke="#000" stroke-width="0.75"/>
<line x1="473.09" y1="278.82" x2="473.09" y2="285.31" stroke="#000" stroke-width="0.75"/>
<line x1="474.98" y1="280.74" x2="474.98" y2="290.16" stroke="#000" stroke-width="0.75"/>
<line x1="476.87" y1="281.89" x2="476.87" y2="289.44" stroke="#000" stroke-width="0.75"/>
<line x1="478.75" y1="284.98" x2="478.75" y2="291.37" stroke="#000" stroke-width="0.75"/>
<line x1="480.64" y1="279.38" x2="480.64" y2="290.16" stroke="#000" stroke-width="0.75"/>
<line x1="482.52" y1="283.15" x2="482.52" y2="290.56" stroke="#000" stroke-width="0.75"/>
<line x1="484.41" y1="280.97" x2="484.41" y2="288.21" stroke="#000" stroke-width="0.75"/>
<line x1="486.3" y1="282.54" x2="486.3" y2="292.69" stroke="#000" stroke-width="0.75"/>
<line x1="488.18" y1="284.83" x2="488.18" y2="292.05" stroke="#000" stroke-width="0.75"/>
<line x1="490.07" y1="285" x2="490.07" y2="294" stroke="#000" stroke-width="0.75"/>
<line x1="491.95" y1="283.64" x2="491.95" y2="289.67" stroke="#000" stroke-width="0.75"/>
<line x1="493.84" y1="281.21" x2="493.84" y2="291.27" stroke="#000" stroke-width="0.75"/>
<line x1="495.73" y1="284.5" x2="495.73" y2="291.05" stroke="#000" stroke-width="0.75"/>
<line x1="497.61" y1="284.69" x2="497.61" y2="289.99" stroke="#000" stroke-width="0.75"/>
<line x1="499.5" y1="283.09" x2="499.5" y2="293.94" stroke="#000" stroke-width="0.75"/>
<line x1="501.38" y1="285.75" x2="501.38" y2="291.78" stroke="#000" stroke-width="0.75"/>
<line x1="503.27" y1="283.21" x2="503.27" y2="293.89" stroke="#000" stroke-width="0.75"/>
<line x1="505.16" y1="285.82" x2="505.16" y2="296.74" stroke="#000" stroke-width="0.75"/>
<line x1="507.04" y1="285.47" x2="507.04" y2="294.11" stroke="#000" stroke-width="0.75"/>
<line x1="508.93" y1="285.44" x2="508.93" y2="290.51" stroke="#000" stroke-width="0.75"/>
<line x1="510.81" y1="285.15" x2="510.81" y2="290.51" stroke="#000" stroke-width="0.75"/>
<line x1="512.7" y1="283.05" x2="512.7" y2="289.3" stroke="#000" stroke-width="0.75"/>
<line x1="514.59" y1="283.3" x2="514.59" y2="290.63" stroke="#000" stroke-width="0.75"/>
<line x1="516.47" y1="282.98" x2="516.47" y2="291.65" stroke="#000" stroke-width="0.75"/>
<line x1="518.36" y1="282.56" x2="518.36" y2="293.36" stroke="#000" stroke-width="0.75"/>
<line x1="520.24" y1="288.38" x2="520.24" y2="295.51" stroke="#000" stroke-width="0.75"/>
<line x1="522.13" y1="285.04" x2="522.13" y2="290.89" stroke="#000" stroke-width="0.75"/>
<line x1="524.02" y1="285.39" x2="524.02" y2="293.76" stroke="#000" stroke-width="0.75"/>
<line x1="525.9" y1="284.29" x2="525.9" y2="290.12" stroke="#000" stroke-width="0.75"/>
<line x1="527.79" y1="285.78" x2="527.79" y2="291.3" stroke="#000" stroke-width="0.75"/>
<line x1="529.67" y1="284.46" x2="529.67" y2="292.8" stroke="#000" stroke-width="0.75"/>
<line x1="531.56" y1="284.39" x2="531.56" y2="293.57" stroke="#000" stroke-width="0.75"/>
<line x1="533.45" y1="285.86" x2="533.45" y2="291.25" stroke="#000" stroke-width="0.75"/>
<line x1="535.33" y1="287.57" x2="535.33" y2="295.28" stroke="#000" stroke-width="0.75"/>
<line x1="537.22" y1="286.19" x2="537.22" y2="295.41" stroke="#000" stroke-width="0.75"/>
<line x1="539.1" y1="281.17" x2="539.1" y2="290.76" stroke="#000" stroke-width="0.75"/>
<line x1="540.99" y1="283.66" x2="540.99" y2="290.96" stroke="#000" stroke-width="0.75"/>
<line x1="542.88" y1="283.65" x2="542.88" y2="293.98" stroke="#000" stroke-width="0.75"/>
<line x1="544.76" y1="285.65" x2="544.76" y2="291.66" stroke="#000" stroke-width="0.75"/>
<line x1="546.65" y1="284.04" x2="546.65" y2="293.33" stroke="#000" stroke-width="0.75"/>
<line x1="548.53" y1="277.64" x2="548.53" y2="287.27" stroke="#000" stroke-width="0.75"/>
<line x1="550.42" y1="282.02" x2="550.42" y2="292.3" stroke="#000" stroke-width="0.75"/>
<line x1="552.31" y1="284.07" x2="552.31" y2="292.04" stroke="#000" stroke-width="0.75"/>
<line x1="554.19" y1="286.42" x2="554.19" y2="292.01" stroke="#000" stroke-width="0.75"/>
<line x1="556.08" y1="289.48" x2="556.08" y2="294.77" stroke="#000" stroke-width="0.75"/>
<line x1="557.96" y1="283.76" x2="557.96" y2="291.93" stroke="#000" stroke-width="0.75"/>
<line x1="559.85" y1="282.65" x2="559.85" y2="288.69" stroke="#000" stroke-width="0.75"/>
<circle cx="418.4" cy="260.25" r="2.35" fill="#fff" stroke="#222" stroke-width="0.85"/>
<circle cx="420.29" cy="257.67" r="2.35" fill="#fff" stroke="#222" stroke-width="0.85"/>
<circle cx="422.17" cy="255.27" r="2.35" fill="#fff" stroke="#222" stroke-width="0.85"/>
<circle cx="424.06" cy="254.55" r="2.35" fill="#fff" stroke="#222" stroke-width="0.85"/>
<circle cx="425.94" cy="255.05" r="2.35" fill="#fff" stroke="#222" stroke-width="0.85"/>
<circle cx="427.83" cy="257.14" r="2.35" fill="#fff" stroke="#222" stroke-width="0.85"/>
<circle cx="429.72" cy="256.33" r="2.35" fill="#fff" stroke="#222" stroke-width="0.85"/>
<circle cx="431.6" cy="257.28" r="2.35" fill="#fff" stroke="#222" stroke-width="0.85"/>
<circle cx="433.49" cy="259.24" r="2.35" fill="#fff" stroke="#222" stroke-width="0.85"/>
<circle cx="435.37" cy="257.32" r="2.35" fill="#fff" stroke="#222" stroke-width="0.85"/>
<circle cx="437.26" cy="254.26" r="2.35" fill="#fff" stroke="#222" stroke-width="0.85"/>
<circle cx="439.15" cy="255.52" r="2.35" fill="#fff" stroke="#222" stroke-width="0.85"/>
<circle cx="441.03" cy="256.54" r="2.35" fill="#fff" stroke="#222" stroke-width="0.85"/>
<circle cx="442.92" cy="257.93" r="2.35" fill="#fff" stroke="#222" stroke-width="0.85"/>
<circle cx="444.8" cy="255.88" r="2.35" fill="#fff" stroke="#222" stroke-width="0.85"/>
<circle cx="446.69" cy="256.83" r="2.35" fill="#fff" stroke="#222" stroke-width="0.85"/>
<circle cx="448.58" cy="255.55" r="2.35" fill="#fff" stroke="#222" stroke-width="0.85"/>
<circle cx="450.46" cy="254.64" r="2.35" fill="#fff" stroke="#222" stroke-width="0.85"/>
<circle cx="452.35" cy="260.3" r="2.35" fill="#fff" stroke="#222" stroke-width="0.85"/>
<circle cx="454.23" cy="255.91" r="2.35" fill="#fff" stroke="#222" stroke-width="0.85"/>
<circle cx="456.12" cy="258.8" r="2.35" fill="#fff" stroke="#222" stroke-width="0.85"/>
<circle cx="458.01" cy="257.85" r="2.35" fill="#fff" stroke="#222" stroke-width="0.85"/>
<circle cx="459.89" cy="258.62" r="2.35" fill="#fff" stroke="#222" stroke-width="0.85"/>
<circle cx="461.78" cy="254.01" r="2.35" fill="#fff" stroke="#222" stroke-width="0.85"/>
<circle cx="463.66" cy="255.09" r="2.35" fill="#fff" stroke="#222" stroke-width="0.85"/>
<circle cx="465.55" cy="256.96" r="2.35" fill="#fff" stroke="#222" stroke-width="0.85"/>
<circle cx="467.44" cy="263.1" r="2.35" fill="#fff" stroke="#222" stroke-width="0.85"/>
<circle cx="469.32" cy="271.63" r="2.35" fill="#fff" stroke="#222" stroke-width="0.85"/>
<circle cx="471.21" cy="277.82" r="2.35" fill="#fff" stroke="#222" stroke-width="0.85"/>
<circle cx="473.09" cy="282.06" r="2.35" fill="#fff" stroke="#222" stroke-width="0.85"/>
<circle cx="474.98" cy="285.45" r="2.35" fill="#fff" stroke="#222" stroke-width="0.85"/>
<circle cx="476.87" cy="285.67" r="2.35" fill="#fff" stroke="#222" stroke-width="0.85"/>
<circle cx="478.75" cy="288.17" r="2.35" fill="#fff" stroke="#222" stroke-width="0.85"/>
<circle cx="480.64" cy="284.77" r="2.35" fill="#fff" stroke="#222" stroke-width="0.85"/>
<circle cx="482.52" cy="286.85" r="2.35" fill="#fff" stroke="#222" stroke-width="0.85"/>
<circle cx="484.41" cy="284.59" r="2.35" fill="#fff" stroke="#222" stroke-width="0.85"/>
<circle cx="486.3" cy="287.61" r="2.35" fill="#fff" stroke="#222" stroke-width="0.85"/>
<circle cx="488.18" cy="288.44" r="2.35" fill="#fff" stroke="#222" stroke-width="0.85"/>
<circle cx="490.07" cy="289.5" r="2.35" fill="#fff" stroke="#222" stroke-width="0.85"/>
<circle cx="491.95" cy="286.65" r="2.35" fill="#fff" stroke="#222" stroke-width="0.85"/>
<circle cx="493.84" cy="286.24" r="2.35" fill="#fff" stroke="#222" stroke-width="0.85"/>
<circle cx="495.73" cy="287.78" r="2.35" fill="#fff" stroke="#222" stroke-width="0.85"/>
<circle cx="497.61" cy="287.34" r="2.35" fill="#fff" stroke="#222" stroke-width="0.85"/>
<circle cx="499.5" cy="288.51" r="2.35" fill="#fff" stroke="#222" stroke-width="0.85"/>
<circle cx="501.38" cy="288.77" r="2.35" fill="#fff" stroke="#222" stroke-width="0.85"/>
<circle cx="503.27" cy="288.55" r="2.35" fill="#fff" stroke="#222" stroke-width="0.85"/>
<circle cx="505.16" cy="291.28" r="2.35" fill="#fff" stroke="#222" stroke-width="0.85"/>
<circle cx="507.04" cy="289.79" r="2.35" fill="#fff" stroke="#222" stroke-width="0.85"/>
<circle cx="508.93" cy="287.98" r="2.35" fill="#fff" stroke="#222" stroke-width="0.85"/>
<circle cx="510.81" cy="287.83" r="2.35" fill="#fff" stroke="#222" stroke-width="0.85"/>
<circle cx="512.7" cy="286.18" r="2.35" fill="#fff" stroke="#222" stroke-width="0.85"/>
<circle cx="514.59" cy="286.96" r="2.35" fill="#fff" stroke="#222" stroke-width="0.85"/>
<circle cx="516.47" cy="287.32" r="2.35" fill="#fff" stroke="#222" stroke-width="0.85"/>
<circle cx="518.36" cy="287.96" r="2.35" fill="#fff" stroke="#222" stroke-width="0.85"/>
<circle cx="520.24" cy="291.94" r="2.35" fill="#fff" stroke="#222" stroke-width="0.85"/>
<circle cx="522.13" cy="287.96" r="2.35" fill="#fff" stroke="#222" stroke-width="0.85"/>
<circle cx="524.02" cy="289.57" r="2.35" fill="#fff" stroke="#222" stroke-width="0.85"/>
<circle cx="525.9" cy="287.2" r="2.35" fill="#fff" stroke="#222" stroke-width="0.85"/>
<circle cx="527.79" cy="288.54" r="2.35" fill="#fff" stroke="#222" stroke-width="0.85"/>
<circle cx="529.67" cy="288.63" r="2.35" fill="#fff" stroke="#222" stroke-width="0.85"/>
<circle cx="531.56" cy="288.98" r="2.35" fill="#fff" stroke="#222" stroke-width="0.85"/>
<circle cx="533.45" cy="288.56" r="2.35" fill="#fff" stroke="#222" stroke-width="0.85"/>
<circle cx="535.33" cy="291.43" r="2.35" fill="#fff" stroke="#222" stroke-width="0.85"/>
<circle cx="537.22" cy="290.8" r="2.35" fill="#fff" stroke="#222" stroke-width="0.85"/>
<circle cx="539.1" cy="285.97" r="2.35" fill="#fff" stroke="#222" stroke-width="0.85"/>
<circle cx="540.99" cy="287.31" r="2.35" fill="#fff" stroke="#222" stroke-width="0.85"/>
<circle cx="542.88" cy="288.82" r="2.35" fill="#fff" stroke="#222" stroke-width="0.85"/>
<circle cx="544.76" cy="288.65" r="2.35" fill="#fff" stroke="#222" stroke-width="0.85"/>
<circle cx="546.65" cy="288.69" r="2.35" fill="#fff" stroke="#222" stroke-width="0.85"/>
<circle cx="548.53" cy="282.46" r="2.35" fill="#fff" stroke="#222" stroke-width="0.85"/>
<circle cx="550.42" cy="287.16" r="2.35" fill="#fff" stroke="#222" stroke-width="0.85"/>
<circle cx="552.31" cy="288.05" r="2.35" fill="#fff" stroke="#222" stroke-width="0.85"/>
<circle cx="554.19" cy="289.22" r="2.35" fill="#fff" stroke="#222" stroke-width="0.85"/>
<circle cx="556.08" cy="292.13" r="2.35" fill="#fff" stroke="#222" stroke-width="0.85"/>
<circle cx="557.96" cy="287.85" r="2.35" fill="#fff" stroke="#222" stroke-width="0.85"/>
<circle cx="559.85" cy="285.67" r="2.35" fill="#fff" stroke="#222" stroke-width="0.85"/>
<line x1="604.6" y1="216.82" x2="604.6" y2="336.18" stroke="#000" stroke-width="1.35"/>
<line x1="599.95" y1="335.5" x2="604.6" y2="335.5" stroke="#000" stroke-width="1.35"/>
<line x1="599.95" y1="296.17" x2="604.6" y2="296.17" stroke="#000" stroke-width="1.35"/>
<line x1="599.95" y1="256.83" x2="604.6" y2="256.83" stroke="#000" stroke-width="1.35"/>
<line x1="599.95" y1="217.5" x2="604.6" y2="217.5" stroke="#000" stroke-width="1.35"/>
<text x="0" y="0" font-size="9.5" text-anchor="end" transform="translate(597.4,339.1) scale(1,1.15)">0</text>
<text x="0" y="0" font-size="9.5" text-anchor="end" transform="translate(597.4,299.77) scale(1,1.15)">0.5</text>
<text x="0" y="0" font-size="9.5" text-anchor="end" transform="translate(597.4,260.43) scale(1,1.15)">1</text>
<text x="0" y="0" font-size="9.5" text-anchor="end" transform="translate(597.4,221.09) scale(1,1.15)">1.5</text>
<line x1="609" y1="335.5" x2="680.2" y2="335.5" stroke="#000" stroke-width="1.35"/>
<text x="0" y="0" font-size="10.4" text-anchor="middle" transform="translate(578.24,276) rotate(-90)">Paired-pulse ratio</text>
<rect x="619.4" y="274.8" width="20.4" height="60.7" fill="#fff" stroke="#000" stroke-width="1.35"/>
<rect x="649.8" y="258.6" width="20.3" height="76.9" fill="#fff" stroke="#000" stroke-width="1.35"/>
<line x1="662.2" y1="252" x2="662.2" y2="262.5" stroke="#000" stroke-width="0.9"/>
<line x1="660.2" y1="262.5" x2="664.2" y2="262.5" stroke="#000" stroke-width="0.9"/>
<line x1="627.3" y1="255.1" x2="662.2" y2="241.7" stroke="#000" stroke-width="0.75" stroke-dasharray="1 1"/>
<line x1="627.3" y1="264.9" x2="662.2" y2="244.1" stroke="#000" stroke-width="0.75" stroke-dasharray="1 1"/>
<line x1="627.3" y1="271.7" x2="662.2" y2="252.7" stroke="#000" stroke-width="0.75" stroke-dasharray="1 1"/>
<line x1="627.3" y1="274.7" x2="662.2" y2="247.1" stroke="#000" stroke-width="0.75" stroke-dasharray="1 1"/>
<line x1="627.3" y1="277.9" x2="662.2" y2="255.1" stroke="#000" stroke-width="0.75" stroke-dasharray="1 1"/>
<line x1="627.3" y1="280.3" x2="662.2" y2="282" stroke="#000" stroke-width="0.75" stroke-dasharray="1 1"/>
<line x1="627.3" y1="282.7" x2="662.2" y2="271.5" stroke="#000" stroke-width="0.75" stroke-dasharray="1 1"/>
<line x1="627.3" y1="276" x2="662.2" y2="256.3" stroke="#000" stroke-width="0.75" stroke-dasharray="1 1"/>
<line x1="627.3" y1="279" x2="662.2" y2="272.2" stroke="#000" stroke-width="0.75" stroke-dasharray="1 1"/>
<circle cx="627.3" cy="255.1" r="2.2" fill="#fff" stroke="#222" stroke-width="0.85"/>
<circle cx="627.3" cy="264.9" r="2.2" fill="#fff" stroke="#222" stroke-width="0.85"/>
<circle cx="627.3" cy="271.7" r="2.2" fill="#fff" stroke="#222" stroke-width="0.85"/>
<circle cx="627.3" cy="274.7" r="2.2" fill="#fff" stroke="#222" stroke-width="0.85"/>
<circle cx="627.3" cy="277.9" r="2.2" fill="#fff" stroke="#222" stroke-width="0.85"/>
<circle cx="627.3" cy="280.3" r="2.2" fill="#fff" stroke="#222" stroke-width="0.85"/>
<circle cx="627.3" cy="282.7" r="2.2" fill="#fff" stroke="#222" stroke-width="0.85"/>
<circle cx="627.3" cy="276" r="2.2" fill="#fff" stroke="#222" stroke-width="0.85"/>
<circle cx="627.3" cy="279" r="2.2" fill="#fff" stroke="#222" stroke-width="0.85"/>
<circle cx="662.2" cy="241.7" r="2.2" fill="#fff" stroke="#222" stroke-width="0.85"/>
<circle cx="662.2" cy="244.1" r="2.2" fill="#fff" stroke="#222" stroke-width="0.85"/>
<circle cx="662.2" cy="247.1" r="2.2" fill="#fff" stroke="#222" stroke-width="0.85"/>
<circle cx="662.2" cy="252.7" r="2.2" fill="#fff" stroke="#222" stroke-width="0.85"/>
<circle cx="662.2" cy="255.1" r="2.2" fill="#fff" stroke="#222" stroke-width="0.85"/>
<circle cx="662.2" cy="256.3" r="2.2" fill="#fff" stroke="#222" stroke-width="0.85"/>
<circle cx="662.2" cy="271.5" r="2.2" fill="#fff" stroke="#222" stroke-width="0.85"/>
<circle cx="662.2" cy="272.2" r="2.2" fill="#fff" stroke="#222" stroke-width="0.85"/>
<circle cx="662.2" cy="282" r="2.2" fill="#fff" stroke="#222" stroke-width="0.85"/>
<text x="0" y="0" font-size="8.5" font-style="italic" transform="translate(618.6,347.0) rotate(30)">Baseline</text>
<text x="0" y="0" font-size="8.5" font-style="italic" transform="translate(656.8,347.0) rotate(30)">Dex</text>
</g>
</svg>
</body></html>
